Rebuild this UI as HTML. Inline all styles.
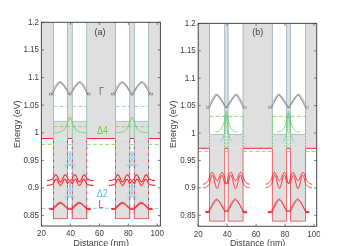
<!DOCTYPE html>
<html><head><meta charset="utf-8"><style>
html,body{margin:0;padding:0;background:#fff;width:343px;height:246px;overflow:hidden}
svg{display:block;will-change:transform}
text{font-family:"Liberation Sans",sans-serif}
.t{font-size:8px;fill:#404040}
.t2{font-size:8.9px;fill:#404040}
.t3{font-size:9.0px;fill:#404040}
.t4{font-size:9px}
</style></head><body>
<svg width="343" height="246" viewBox="0 0 343 246">
<rect width="343" height="246" fill="#fff"/>
<rect x="41.4" y="22.3" width="119.0" height="116.2" fill="#dfdfdf"/>
<rect x="53.5" y="22.3" width="14.0" height="99.10000000000001" fill="#fff"/>
<rect x="53.5" y="138.5" width="14.0" height="80.1" fill="#dfdfdf"/>
<rect x="72.3" y="22.3" width="14.400000000000006" height="99.10000000000001" fill="#fff"/>
<rect x="72.3" y="138.5" width="14.400000000000006" height="80.1" fill="#dfdfdf"/>
<rect x="115.5" y="22.3" width="14.199999999999989" height="99.10000000000001" fill="#fff"/>
<rect x="115.5" y="138.5" width="14.199999999999989" height="80.1" fill="#dfdfdf"/>
<rect x="134.4" y="22.3" width="14.099999999999994" height="99.10000000000001" fill="#fff"/>
<rect x="134.4" y="138.5" width="14.099999999999994" height="80.1" fill="#dfdfdf"/>
<line x1="53.50" y1="22.30" x2="53.50" y2="121.40" stroke="#a3bdc4" stroke-width="1.0"/>
<line x1="67.50" y1="22.30" x2="67.50" y2="121.40" stroke="#a3bdc4" stroke-width="1.0"/>
<line x1="53.50" y1="121.40" x2="67.50" y2="121.40" stroke="#a3bdc4" stroke-width="0.9"/>
<line x1="72.30" y1="22.30" x2="72.30" y2="121.40" stroke="#a3bdc4" stroke-width="1.0"/>
<line x1="86.70" y1="22.30" x2="86.70" y2="121.40" stroke="#a3bdc4" stroke-width="1.0"/>
<line x1="72.30" y1="121.40" x2="86.70" y2="121.40" stroke="#a3bdc4" stroke-width="0.9"/>
<line x1="115.50" y1="22.30" x2="115.50" y2="121.40" stroke="#a3bdc4" stroke-width="1.0"/>
<line x1="129.70" y1="22.30" x2="129.70" y2="121.40" stroke="#a3bdc4" stroke-width="1.0"/>
<line x1="115.50" y1="121.40" x2="129.70" y2="121.40" stroke="#a3bdc4" stroke-width="0.9"/>
<line x1="134.40" y1="22.30" x2="134.40" y2="121.40" stroke="#a3bdc4" stroke-width="1.0"/>
<line x1="148.50" y1="22.30" x2="148.50" y2="121.40" stroke="#a3bdc4" stroke-width="1.0"/>
<line x1="134.40" y1="121.40" x2="148.50" y2="121.40" stroke="#a3bdc4" stroke-width="0.9"/>
<line x1="53.50" y1="106.40" x2="67.50" y2="106.40" stroke="#7ccaee" stroke-width="0.85" stroke-dasharray="3.9,2.3"/>
<line x1="72.30" y1="106.40" x2="86.70" y2="106.40" stroke="#7ccaee" stroke-width="0.85" stroke-dasharray="3.9,2.3"/>
<line x1="53.50" y1="126.60" x2="86.70" y2="126.60" stroke="#80d65c" stroke-width="0.85" stroke-dasharray="3.9,2.3"/>
<path d="M53.50,132.66 L53.91,132.65 L54.33,132.64 L54.74,132.63 L55.16,132.62 L55.58,132.60 L55.99,132.58 L56.41,132.55 L56.82,132.52 L57.23,132.48 L57.65,132.44 L58.06,132.39 L58.48,132.33 L58.90,132.25 L59.31,132.17 L59.73,132.07 L60.14,131.95 L60.55,131.81 L60.97,131.65 L61.38,131.46 L61.80,131.24 L62.22,130.99 L62.63,130.70 L63.05,130.36 L63.46,129.98 L63.88,129.54 L64.29,129.05 L64.70,128.49 L65.12,127.86 L65.53,127.15 L65.95,126.37 L66.36,125.51 L66.78,124.57 L67.20,123.55 L67.61,122.47 L68.03,121.32 L68.44,120.14 L68.86,118.97 L69.27,117.89 L69.69,117.09 L70.10,117.07 L70.52,117.85 L70.93,118.93 L71.34,120.10 L71.76,121.28 L72.18,122.43 L72.59,123.52 L73.00,124.54 L73.42,125.48 L73.84,126.34 L74.25,127.13 L74.66,127.83 L75.08,128.47 L75.50,129.03 L75.91,129.53 L76.33,129.97 L76.74,130.35 L77.16,130.69 L77.57,130.98 L77.98,131.23 L78.40,131.45 L78.81,131.64 L79.23,131.81 L79.65,131.95 L80.06,132.06 L80.47,132.17 L80.89,132.25 L81.31,132.32 L81.72,132.39 L82.14,132.44 L82.55,132.48 L82.97,132.52 L83.38,132.55 L83.80,132.58 L84.21,132.60 L84.62,132.62 L85.04,132.63 L85.45,132.64 L85.87,132.65 L86.28,132.66 L86.70,132.67" fill="none" stroke="#66d03a" stroke-width="0.85"/>
<line x1="53.50" y1="121.40" x2="53.50" y2="138.50" stroke="#5cbdea" stroke-width="0.8" stroke-dasharray="1.6,1.6" stroke-dashoffset="1.6"/>
<line x1="53.50" y1="121.40" x2="53.50" y2="138.50" stroke="#66d03a" stroke-width="0.65" stroke-dasharray="1.6,1.6"/>
<line x1="67.50" y1="121.40" x2="67.50" y2="138.50" stroke="#5cbdea" stroke-width="0.8" stroke-dasharray="1.6,1.6" stroke-dashoffset="1.6"/>
<line x1="67.50" y1="121.40" x2="67.50" y2="138.50" stroke="#66d03a" stroke-width="0.65" stroke-dasharray="1.6,1.6"/>
<line x1="72.30" y1="121.40" x2="72.30" y2="138.50" stroke="#5cbdea" stroke-width="0.8" stroke-dasharray="1.6,1.6" stroke-dashoffset="1.6"/>
<line x1="72.30" y1="121.40" x2="72.30" y2="138.50" stroke="#66d03a" stroke-width="0.65" stroke-dasharray="1.6,1.6"/>
<line x1="86.70" y1="121.40" x2="86.70" y2="138.50" stroke="#5cbdea" stroke-width="0.8" stroke-dasharray="1.6,1.6" stroke-dashoffset="1.6"/>
<line x1="86.70" y1="121.40" x2="86.70" y2="138.50" stroke="#66d03a" stroke-width="0.65" stroke-dasharray="1.6,1.6"/>
<line x1="53.50" y1="138.50" x2="53.50" y2="218.60" stroke="#8ea6c4" stroke-width="0.9"/>
<line x1="53.50" y1="138.50" x2="53.50" y2="218.60" stroke="#fa2630" stroke-width="0.85" stroke-dasharray="2.2,4.2" stroke-dashoffset="-2"/>
<line x1="53.50" y1="206.00" x2="53.50" y2="218.60" stroke="#f2555c" stroke-width="0.8"/>
<line x1="67.50" y1="138.50" x2="67.50" y2="218.60" stroke="#8ea6c4" stroke-width="0.9"/>
<line x1="67.50" y1="138.50" x2="67.50" y2="218.60" stroke="#fa2630" stroke-width="0.85" stroke-dasharray="2.2,4.2" stroke-dashoffset="-2"/>
<line x1="67.50" y1="206.00" x2="67.50" y2="218.60" stroke="#f2555c" stroke-width="0.8"/>
<line x1="72.30" y1="138.50" x2="72.30" y2="218.60" stroke="#8ea6c4" stroke-width="0.9"/>
<line x1="72.30" y1="138.50" x2="72.30" y2="218.60" stroke="#fa2630" stroke-width="0.85" stroke-dasharray="2.2,4.2" stroke-dashoffset="-2"/>
<line x1="72.30" y1="206.00" x2="72.30" y2="218.60" stroke="#f2555c" stroke-width="0.8"/>
<line x1="86.70" y1="138.50" x2="86.70" y2="218.60" stroke="#8ea6c4" stroke-width="0.9"/>
<line x1="86.70" y1="138.50" x2="86.70" y2="218.60" stroke="#fa2630" stroke-width="0.85" stroke-dasharray="2.2,4.2" stroke-dashoffset="-2"/>
<line x1="86.70" y1="206.00" x2="86.70" y2="218.60" stroke="#f2555c" stroke-width="0.8"/>
<line x1="53.50" y1="218.60" x2="67.50" y2="218.60" stroke="#f2555c" stroke-width="0.9"/>
<line x1="72.30" y1="218.60" x2="86.70" y2="218.60" stroke="#f2555c" stroke-width="0.9"/>
<path d="M70.29,151.40 L70.40,151.63 L70.50,151.86 L70.59,152.09 L70.67,152.33 L70.72,152.56 L70.76,152.79 L70.77,153.02 L70.77,153.25 L70.74,153.49 L70.68,153.72 L70.61,153.95 L70.52,154.18 L70.41,154.41 L70.29,154.64 L70.15,154.88 L70.00,155.11 L69.85,155.34 L69.70,155.57 L69.55,155.80 L69.41,156.03 L69.27,156.27 L69.15,156.50 L69.05,156.73 L68.96,156.96 L68.90,157.19 L68.86,157.42 L68.85,157.66 L68.86,157.89 L68.90,158.12 L68.97,158.35 L69.06,158.58 L69.18,158.81 L69.31,159.05 L69.46,159.28 L69.63,159.51 L69.80,159.74 L69.98,159.97 L70.16,160.20 L70.34,160.44 L70.51,160.67 L70.66,160.90 L70.80,161.13 L70.92,161.36 L71.01,161.59 L71.08,161.83 L71.12,162.06 L71.13,162.29 L71.11,162.52 L71.05,162.75 L70.97,162.98 L70.86,163.22 L70.72,163.45 L70.56,163.68 L70.38,163.91 L70.19,164.14 L69.98,164.37 L69.78,164.61 L69.57,164.84 L69.37,165.07 L69.17,165.30" fill="none" stroke="#5cbdea" stroke-width="1.0"/>
<path d="M69.51,151.40 L69.40,151.63 L69.30,151.86 L69.21,152.09 L69.13,152.33 L69.08,152.56 L69.04,152.79 L69.03,153.02 L69.03,153.25 L69.06,153.49 L69.12,153.72 L69.19,153.95 L69.28,154.18 L69.39,154.41 L69.51,154.64 L69.65,154.88 L69.80,155.11 L69.95,155.34 L70.10,155.57 L70.25,155.80 L70.39,156.03 L70.53,156.27 L70.65,156.50 L70.75,156.73 L70.84,156.96 L70.90,157.19 L70.94,157.42 L70.95,157.66 L70.94,157.89 L70.90,158.12 L70.83,158.35 L70.74,158.58 L70.62,158.81 L70.49,159.05 L70.34,159.28 L70.17,159.51 L70.00,159.74 L69.82,159.97 L69.64,160.20 L69.46,160.44 L69.29,160.67 L69.14,160.90 L69.00,161.13 L68.88,161.36 L68.79,161.59 L68.72,161.83 L68.68,162.06 L68.67,162.29 L68.69,162.52 L68.75,162.75 L68.83,162.98 L68.94,163.22 L69.08,163.45 L69.24,163.68 L69.42,163.91 L69.61,164.14 L69.82,164.37 L70.02,164.61 L70.23,164.84 L70.43,165.07 L70.63,165.30" fill="none" stroke="#5cbdea" stroke-width="1.0"/>
<line x1="64.40" y1="165.30" x2="75.40" y2="165.30" stroke="#5cbdea" stroke-width="0.7"/>
<path d="M70.20,183.20 L70.23,183.55 L70.24,183.91 L70.25,184.26 L70.24,184.61 L70.22,184.96 L70.18,185.31 L70.13,185.67 L70.06,186.02 L69.98,186.37 L69.89,186.72 L69.79,187.08 L69.69,187.43 L69.58,187.78 L69.47,188.13 L69.36,188.49 L69.26,188.84 L69.17,189.19 L69.10,189.54 L69.04,189.90 L69.00,190.25 L68.99,190.60 L68.99,190.96 L69.03,191.31 L69.09,191.66 L69.18,192.01 L69.29,192.37 L69.43,192.72 L69.58,193.07 L69.75,193.42 L69.94,193.78 L70.13,194.13 L70.33,194.48 L70.53,194.83 L70.72,195.19 L70.89,195.54 L71.05,195.89 L71.18,196.24 L71.29,196.59 L71.36,196.95 L71.40,197.30" fill="none" stroke="#5cbdea" stroke-width="1.0"/>
<path d="M69.60,183.20 L69.57,183.55 L69.56,183.91 L69.55,184.26 L69.56,184.61 L69.58,184.96 L69.62,185.31 L69.67,185.67 L69.74,186.02 L69.82,186.37 L69.91,186.72 L70.01,187.08 L70.11,187.43 L70.22,187.78 L70.33,188.13 L70.44,188.49 L70.54,188.84 L70.63,189.19 L70.70,189.54 L70.76,189.90 L70.80,190.25 L70.81,190.60 L70.81,190.96 L70.77,191.31 L70.71,191.66 L70.62,192.01 L70.51,192.37 L70.37,192.72 L70.22,193.07 L70.05,193.42 L69.86,193.78 L69.67,194.13 L69.47,194.48 L69.27,194.83 L69.08,195.19 L68.91,195.54 L68.75,195.89 L68.62,196.24 L68.51,196.59 L68.44,196.95 L68.40,197.30" fill="none" stroke="#5cbdea" stroke-width="1.0"/>
<line x1="65.10" y1="197.30" x2="74.70" y2="197.30" stroke="#5cbdea" stroke-width="0.7"/>
<circle cx="51.50" cy="93.80" r="0.75" fill="#ffffff" stroke="#858585" stroke-width="0.4"/>
<circle cx="52.20" cy="92.36" r="0.75" fill="#ffffff" stroke="#858585" stroke-width="0.4"/>
<circle cx="52.92" cy="90.93" r="0.75" fill="#ffffff" stroke="#858585" stroke-width="0.4"/>
<circle cx="53.66" cy="89.52" r="0.75" fill="#ffffff" stroke="#858585" stroke-width="0.4"/>
<circle cx="54.45" cy="88.12" r="0.75" fill="#ffffff" stroke="#858585" stroke-width="0.4"/>
<circle cx="55.27" cy="86.75" r="0.75" fill="#ffffff" stroke="#858585" stroke-width="0.4"/>
<circle cx="56.15" cy="85.41" r="0.75" fill="#ffffff" stroke="#858585" stroke-width="0.4"/>
<circle cx="57.10" cy="84.12" r="0.75" fill="#ffffff" stroke="#858585" stroke-width="0.4"/>
<circle cx="58.16" cy="82.93" r="0.75" fill="#ffffff" stroke="#858585" stroke-width="0.4"/>
<circle cx="59.41" cy="81.95" r="0.75" fill="#ffffff" stroke="#858585" stroke-width="0.4"/>
<circle cx="60.84" cy="82.38" r="0.75" fill="#ffffff" stroke="#858585" stroke-width="0.4"/>
<circle cx="62.03" cy="83.45" r="0.75" fill="#ffffff" stroke="#858585" stroke-width="0.4"/>
<circle cx="63.09" cy="84.65" r="0.75" fill="#ffffff" stroke="#858585" stroke-width="0.4"/>
<circle cx="64.06" cy="85.92" r="0.75" fill="#ffffff" stroke="#858585" stroke-width="0.4"/>
<circle cx="64.98" cy="87.23" r="0.75" fill="#ffffff" stroke="#858585" stroke-width="0.4"/>
<circle cx="65.85" cy="88.57" r="0.75" fill="#ffffff" stroke="#858585" stroke-width="0.4"/>
<circle cx="66.68" cy="89.94" r="0.75" fill="#ffffff" stroke="#858585" stroke-width="0.4"/>
<circle cx="67.48" cy="91.33" r="0.75" fill="#ffffff" stroke="#858585" stroke-width="0.4"/>
<circle cx="68.26" cy="92.73" r="0.75" fill="#ffffff" stroke="#858585" stroke-width="0.4"/>
<circle cx="69.11" cy="94.04" r="0.75" fill="#ffffff" stroke="#858585" stroke-width="0.4"/>
<circle cx="70.53" cy="94.65" r="0.75" fill="#ffffff" stroke="#858585" stroke-width="0.4"/>
<circle cx="71.27" cy="93.23" r="0.75" fill="#ffffff" stroke="#858585" stroke-width="0.4"/>
<circle cx="72.03" cy="91.83" r="0.75" fill="#ffffff" stroke="#858585" stroke-width="0.4"/>
<circle cx="72.83" cy="90.44" r="0.75" fill="#ffffff" stroke="#858585" stroke-width="0.4"/>
<circle cx="73.65" cy="89.06" r="0.75" fill="#ffffff" stroke="#858585" stroke-width="0.4"/>
<circle cx="74.50" cy="87.71" r="0.75" fill="#ffffff" stroke="#858585" stroke-width="0.4"/>
<circle cx="75.40" cy="86.39" r="0.75" fill="#ffffff" stroke="#858585" stroke-width="0.4"/>
<circle cx="76.35" cy="85.10" r="0.75" fill="#ffffff" stroke="#858585" stroke-width="0.4"/>
<circle cx="77.38" cy="83.87" r="0.75" fill="#ffffff" stroke="#858585" stroke-width="0.4"/>
<circle cx="78.51" cy="82.74" r="0.75" fill="#ffffff" stroke="#858585" stroke-width="0.4"/>
<circle cx="79.84" cy="81.88" r="0.75" fill="#ffffff" stroke="#858585" stroke-width="0.4"/>
<circle cx="81.22" cy="82.53" r="0.75" fill="#ffffff" stroke="#858585" stroke-width="0.4"/>
<circle cx="82.34" cy="83.68" r="0.75" fill="#ffffff" stroke="#858585" stroke-width="0.4"/>
<circle cx="83.32" cy="84.94" r="0.75" fill="#ffffff" stroke="#858585" stroke-width="0.4"/>
<circle cx="84.22" cy="86.26" r="0.75" fill="#ffffff" stroke="#858585" stroke-width="0.4"/>
<circle cx="85.06" cy="87.62" r="0.75" fill="#ffffff" stroke="#858585" stroke-width="0.4"/>
<circle cx="85.86" cy="89.01" r="0.75" fill="#ffffff" stroke="#858585" stroke-width="0.4"/>
<circle cx="86.62" cy="90.42" r="0.75" fill="#ffffff" stroke="#858585" stroke-width="0.4"/>
<circle cx="87.35" cy="91.84" r="0.75" fill="#ffffff" stroke="#858585" stroke-width="0.4"/>
<circle cx="88.05" cy="93.28" r="0.75" fill="#ffffff" stroke="#858585" stroke-width="0.4"/>
<path d="M52.30,94.30 L52.69,93.47 L53.08,92.66 L53.47,91.87 L53.86,91.10 L54.26,90.35 L54.65,89.63 L55.04,88.92 L55.43,88.24 L55.82,87.58 L56.21,86.94 L56.60,86.34 L56.99,85.76 L57.38,85.21 L57.78,84.69 L58.17,84.20 L58.56,83.76 L58.95,83.35 L59.34,82.99 L59.73,82.68 L60.12,82.44 L60.51,82.32 L60.90,82.47 L61.30,82.71 L61.69,83.00 L62.08,83.33 L62.47,83.71 L62.86,84.11 L63.25,84.55 L63.64,85.01 L64.03,85.50 L64.42,86.01 L64.82,86.55 L65.21,87.11 L65.60,87.69 L65.99,88.28 L66.38,88.90 L66.77,89.54 L67.16,90.19 L67.55,90.86 L67.94,91.54 L68.34,92.24 L68.73,92.96 L69.12,93.69 L69.51,94.44 L69.90,95.20 L70.29,94.44 L70.68,93.69 L71.07,92.96 L71.46,92.24 L71.86,91.54 L72.25,90.86 L72.64,90.19 L73.03,89.54 L73.42,88.90 L73.81,88.28 L74.20,87.69 L74.59,87.11 L74.98,86.55 L75.38,86.01 L75.77,85.50 L76.16,85.01 L76.55,84.55 L76.94,84.11 L77.33,83.71 L77.72,83.33 L78.11,83.00 L78.50,82.71 L78.90,82.47 L79.29,82.32 L79.68,82.44 L80.07,82.68 L80.46,82.99 L80.85,83.35 L81.24,83.76 L81.63,84.20 L82.02,84.69 L82.42,85.21 L82.81,85.76 L83.20,86.34 L83.59,86.94 L83.98,87.58 L84.37,88.24 L84.76,88.92 L85.15,89.63 L85.54,90.35 L85.94,91.10 L86.33,91.87 L86.72,92.66 L87.11,93.47 L87.50,94.30" fill="none" stroke="#555555" stroke-width="0.6" stroke-linejoin="round"/>
<rect x="49.20" y="93.60" width="3.0" height="1.4" fill="none" stroke="#707070" stroke-width="0.5"/>
<rect x="87.60" y="93.60" width="3.0" height="1.4" fill="none" stroke="#707070" stroke-width="0.5"/>
<line x1="115.50" y1="106.40" x2="129.70" y2="106.40" stroke="#7ccaee" stroke-width="0.85" stroke-dasharray="3.9,2.3"/>
<line x1="134.40" y1="106.40" x2="148.50" y2="106.40" stroke="#7ccaee" stroke-width="0.85" stroke-dasharray="3.9,2.3"/>
<line x1="115.50" y1="126.60" x2="148.50" y2="126.60" stroke="#80d65c" stroke-width="0.85" stroke-dasharray="3.9,2.3"/>
<path d="M115.50,132.66 L115.91,132.66 L116.33,132.65 L116.74,132.64 L117.15,132.62 L117.56,132.61 L117.97,132.59 L118.39,132.56 L118.80,132.53 L119.21,132.50 L119.62,132.46 L120.04,132.41 L120.45,132.36 L120.86,132.29 L121.28,132.21 L121.69,132.12 L122.10,132.01 L122.51,131.88 L122.92,131.73 L123.34,131.55 L123.75,131.35 L124.16,131.12 L124.58,130.85 L124.99,130.54 L125.40,130.18 L125.81,129.77 L126.22,129.31 L126.64,128.79 L127.05,128.20 L127.46,127.54 L127.88,126.81 L128.29,125.99 L128.70,125.10 L129.11,124.13 L129.53,123.09 L129.94,121.98 L130.35,120.83 L130.76,119.65 L131.18,118.51 L131.59,117.51 L132.00,116.96 L132.41,117.32 L132.82,118.25 L133.24,119.37 L133.65,120.54 L134.06,121.71 L134.47,122.83 L134.89,123.89 L135.30,124.88 L135.71,125.79 L136.12,126.62 L136.54,127.37 L136.95,128.05 L137.36,128.65 L137.78,129.19 L138.19,129.67 L138.60,130.09 L139.01,130.45 L139.43,130.78 L139.84,131.06 L140.25,131.30 L140.66,131.51 L141.07,131.69 L141.49,131.84 L141.90,131.98 L142.31,132.09 L142.72,132.19 L143.14,132.27 L143.55,132.34 L143.96,132.40 L144.38,132.45 L144.79,132.49 L145.20,132.53 L145.61,132.56 L146.03,132.58 L146.44,132.60 L146.85,132.62 L147.26,132.63 L147.68,132.64 L148.09,132.65 L148.50,132.66" fill="none" stroke="#66d03a" stroke-width="0.85"/>
<line x1="115.50" y1="121.40" x2="115.50" y2="138.50" stroke="#5cbdea" stroke-width="0.8" stroke-dasharray="1.6,1.6" stroke-dashoffset="1.6"/>
<line x1="115.50" y1="121.40" x2="115.50" y2="138.50" stroke="#66d03a" stroke-width="0.65" stroke-dasharray="1.6,1.6"/>
<line x1="129.70" y1="121.40" x2="129.70" y2="138.50" stroke="#5cbdea" stroke-width="0.8" stroke-dasharray="1.6,1.6" stroke-dashoffset="1.6"/>
<line x1="129.70" y1="121.40" x2="129.70" y2="138.50" stroke="#66d03a" stroke-width="0.65" stroke-dasharray="1.6,1.6"/>
<line x1="134.40" y1="121.40" x2="134.40" y2="138.50" stroke="#5cbdea" stroke-width="0.8" stroke-dasharray="1.6,1.6" stroke-dashoffset="1.6"/>
<line x1="134.40" y1="121.40" x2="134.40" y2="138.50" stroke="#66d03a" stroke-width="0.65" stroke-dasharray="1.6,1.6"/>
<line x1="148.50" y1="121.40" x2="148.50" y2="138.50" stroke="#5cbdea" stroke-width="0.8" stroke-dasharray="1.6,1.6" stroke-dashoffset="1.6"/>
<line x1="148.50" y1="121.40" x2="148.50" y2="138.50" stroke="#66d03a" stroke-width="0.65" stroke-dasharray="1.6,1.6"/>
<line x1="115.50" y1="138.50" x2="115.50" y2="218.60" stroke="#8ea6c4" stroke-width="0.9"/>
<line x1="115.50" y1="138.50" x2="115.50" y2="218.60" stroke="#fa2630" stroke-width="0.85" stroke-dasharray="2.2,4.2" stroke-dashoffset="-2"/>
<line x1="115.50" y1="206.00" x2="115.50" y2="218.60" stroke="#f2555c" stroke-width="0.8"/>
<line x1="129.70" y1="138.50" x2="129.70" y2="218.60" stroke="#8ea6c4" stroke-width="0.9"/>
<line x1="129.70" y1="138.50" x2="129.70" y2="218.60" stroke="#fa2630" stroke-width="0.85" stroke-dasharray="2.2,4.2" stroke-dashoffset="-2"/>
<line x1="129.70" y1="206.00" x2="129.70" y2="218.60" stroke="#f2555c" stroke-width="0.8"/>
<line x1="134.40" y1="138.50" x2="134.40" y2="218.60" stroke="#8ea6c4" stroke-width="0.9"/>
<line x1="134.40" y1="138.50" x2="134.40" y2="218.60" stroke="#fa2630" stroke-width="0.85" stroke-dasharray="2.2,4.2" stroke-dashoffset="-2"/>
<line x1="134.40" y1="206.00" x2="134.40" y2="218.60" stroke="#f2555c" stroke-width="0.8"/>
<line x1="148.50" y1="138.50" x2="148.50" y2="218.60" stroke="#8ea6c4" stroke-width="0.9"/>
<line x1="148.50" y1="138.50" x2="148.50" y2="218.60" stroke="#fa2630" stroke-width="0.85" stroke-dasharray="2.2,4.2" stroke-dashoffset="-2"/>
<line x1="148.50" y1="206.00" x2="148.50" y2="218.60" stroke="#f2555c" stroke-width="0.8"/>
<line x1="115.50" y1="218.60" x2="129.70" y2="218.60" stroke="#f2555c" stroke-width="0.9"/>
<line x1="134.40" y1="218.60" x2="148.50" y2="218.60" stroke="#f2555c" stroke-width="0.9"/>
<path d="M132.44,151.40 L132.55,151.63 L132.65,151.86 L132.74,152.09 L132.82,152.33 L132.87,152.56 L132.91,152.79 L132.92,153.02 L132.92,153.25 L132.89,153.49 L132.83,153.72 L132.76,153.95 L132.67,154.18 L132.56,154.41 L132.44,154.64 L132.30,154.88 L132.15,155.11 L132.00,155.34 L131.85,155.57 L131.70,155.80 L131.56,156.03 L131.42,156.27 L131.30,156.50 L131.20,156.73 L131.11,156.96 L131.05,157.19 L131.01,157.42 L131.00,157.66 L131.01,157.89 L131.05,158.12 L131.12,158.35 L131.21,158.58 L131.33,158.81 L131.46,159.05 L131.61,159.28 L131.78,159.51 L131.95,159.74 L132.13,159.97 L132.31,160.20 L132.49,160.44 L132.66,160.67 L132.81,160.90 L132.95,161.13 L133.07,161.36 L133.16,161.59 L133.23,161.83 L133.27,162.06 L133.28,162.29 L133.26,162.52 L133.20,162.75 L133.12,162.98 L133.01,163.22 L132.87,163.45 L132.71,163.68 L132.53,163.91 L132.34,164.14 L132.13,164.37 L131.93,164.61 L131.72,164.84 L131.52,165.07 L131.32,165.30" fill="none" stroke="#5cbdea" stroke-width="1.0"/>
<path d="M131.66,151.40 L131.55,151.63 L131.45,151.86 L131.36,152.09 L131.28,152.33 L131.23,152.56 L131.19,152.79 L131.18,153.02 L131.18,153.25 L131.21,153.49 L131.27,153.72 L131.34,153.95 L131.43,154.18 L131.54,154.41 L131.66,154.64 L131.80,154.88 L131.95,155.11 L132.10,155.34 L132.25,155.57 L132.40,155.80 L132.54,156.03 L132.68,156.27 L132.80,156.50 L132.90,156.73 L132.99,156.96 L133.05,157.19 L133.09,157.42 L133.10,157.66 L133.09,157.89 L133.05,158.12 L132.98,158.35 L132.89,158.58 L132.77,158.81 L132.64,159.05 L132.49,159.28 L132.32,159.51 L132.15,159.74 L131.97,159.97 L131.79,160.20 L131.61,160.44 L131.44,160.67 L131.29,160.90 L131.15,161.13 L131.03,161.36 L130.94,161.59 L130.87,161.83 L130.83,162.06 L130.82,162.29 L130.84,162.52 L130.90,162.75 L130.98,162.98 L131.09,163.22 L131.23,163.45 L131.39,163.68 L131.57,163.91 L131.76,164.14 L131.97,164.37 L132.17,164.61 L132.38,164.84 L132.58,165.07 L132.78,165.30" fill="none" stroke="#5cbdea" stroke-width="1.0"/>
<line x1="126.55" y1="165.30" x2="137.55" y2="165.30" stroke="#5cbdea" stroke-width="0.7"/>
<path d="M132.35,183.20 L132.38,183.55 L132.39,183.91 L132.40,184.26 L132.39,184.61 L132.37,184.96 L132.33,185.31 L132.28,185.67 L132.21,186.02 L132.13,186.37 L132.04,186.72 L131.94,187.08 L131.84,187.43 L131.73,187.78 L131.62,188.13 L131.51,188.49 L131.41,188.84 L131.32,189.19 L131.25,189.54 L131.19,189.90 L131.15,190.25 L131.14,190.60 L131.14,190.96 L131.18,191.31 L131.24,191.66 L131.33,192.01 L131.44,192.37 L131.58,192.72 L131.73,193.07 L131.90,193.42 L132.09,193.78 L132.28,194.13 L132.48,194.48 L132.68,194.83 L132.87,195.19 L133.04,195.54 L133.20,195.89 L133.33,196.24 L133.44,196.59 L133.51,196.95 L133.55,197.30" fill="none" stroke="#5cbdea" stroke-width="1.0"/>
<path d="M131.75,183.20 L131.72,183.55 L131.71,183.91 L131.70,184.26 L131.71,184.61 L131.73,184.96 L131.77,185.31 L131.82,185.67 L131.89,186.02 L131.97,186.37 L132.06,186.72 L132.16,187.08 L132.26,187.43 L132.37,187.78 L132.48,188.13 L132.59,188.49 L132.69,188.84 L132.78,189.19 L132.85,189.54 L132.91,189.90 L132.95,190.25 L132.96,190.60 L132.96,190.96 L132.92,191.31 L132.86,191.66 L132.77,192.01 L132.66,192.37 L132.52,192.72 L132.37,193.07 L132.20,193.42 L132.01,193.78 L131.82,194.13 L131.62,194.48 L131.42,194.83 L131.23,195.19 L131.06,195.54 L130.90,195.89 L130.77,196.24 L130.66,196.59 L130.59,196.95 L130.55,197.30" fill="none" stroke="#5cbdea" stroke-width="1.0"/>
<line x1="127.25" y1="197.30" x2="136.85" y2="197.30" stroke="#5cbdea" stroke-width="0.7"/>
<circle cx="113.65" cy="93.80" r="0.75" fill="#ffffff" stroke="#858585" stroke-width="0.4"/>
<circle cx="114.35" cy="92.36" r="0.75" fill="#ffffff" stroke="#858585" stroke-width="0.4"/>
<circle cx="115.07" cy="90.93" r="0.75" fill="#ffffff" stroke="#858585" stroke-width="0.4"/>
<circle cx="115.81" cy="89.52" r="0.75" fill="#ffffff" stroke="#858585" stroke-width="0.4"/>
<circle cx="116.60" cy="88.12" r="0.75" fill="#ffffff" stroke="#858585" stroke-width="0.4"/>
<circle cx="117.42" cy="86.75" r="0.75" fill="#ffffff" stroke="#858585" stroke-width="0.4"/>
<circle cx="118.30" cy="85.41" r="0.75" fill="#ffffff" stroke="#858585" stroke-width="0.4"/>
<circle cx="119.25" cy="84.12" r="0.75" fill="#ffffff" stroke="#858585" stroke-width="0.4"/>
<circle cx="120.31" cy="82.93" r="0.75" fill="#ffffff" stroke="#858585" stroke-width="0.4"/>
<circle cx="121.56" cy="81.95" r="0.75" fill="#ffffff" stroke="#858585" stroke-width="0.4"/>
<circle cx="122.99" cy="82.38" r="0.75" fill="#ffffff" stroke="#858585" stroke-width="0.4"/>
<circle cx="124.18" cy="83.45" r="0.75" fill="#ffffff" stroke="#858585" stroke-width="0.4"/>
<circle cx="125.24" cy="84.65" r="0.75" fill="#ffffff" stroke="#858585" stroke-width="0.4"/>
<circle cx="126.21" cy="85.92" r="0.75" fill="#ffffff" stroke="#858585" stroke-width="0.4"/>
<circle cx="127.13" cy="87.23" r="0.75" fill="#ffffff" stroke="#858585" stroke-width="0.4"/>
<circle cx="128.00" cy="88.57" r="0.75" fill="#ffffff" stroke="#858585" stroke-width="0.4"/>
<circle cx="128.83" cy="89.94" r="0.75" fill="#ffffff" stroke="#858585" stroke-width="0.4"/>
<circle cx="129.63" cy="91.33" r="0.75" fill="#ffffff" stroke="#858585" stroke-width="0.4"/>
<circle cx="130.41" cy="92.73" r="0.75" fill="#ffffff" stroke="#858585" stroke-width="0.4"/>
<circle cx="131.26" cy="94.04" r="0.75" fill="#ffffff" stroke="#858585" stroke-width="0.4"/>
<circle cx="132.68" cy="94.65" r="0.75" fill="#ffffff" stroke="#858585" stroke-width="0.4"/>
<circle cx="133.42" cy="93.23" r="0.75" fill="#ffffff" stroke="#858585" stroke-width="0.4"/>
<circle cx="134.18" cy="91.83" r="0.75" fill="#ffffff" stroke="#858585" stroke-width="0.4"/>
<circle cx="134.98" cy="90.44" r="0.75" fill="#ffffff" stroke="#858585" stroke-width="0.4"/>
<circle cx="135.80" cy="89.06" r="0.75" fill="#ffffff" stroke="#858585" stroke-width="0.4"/>
<circle cx="136.65" cy="87.71" r="0.75" fill="#ffffff" stroke="#858585" stroke-width="0.4"/>
<circle cx="137.55" cy="86.39" r="0.75" fill="#ffffff" stroke="#858585" stroke-width="0.4"/>
<circle cx="138.50" cy="85.10" r="0.75" fill="#ffffff" stroke="#858585" stroke-width="0.4"/>
<circle cx="139.53" cy="83.87" r="0.75" fill="#ffffff" stroke="#858585" stroke-width="0.4"/>
<circle cx="140.66" cy="82.74" r="0.75" fill="#ffffff" stroke="#858585" stroke-width="0.4"/>
<circle cx="141.99" cy="81.88" r="0.75" fill="#ffffff" stroke="#858585" stroke-width="0.4"/>
<circle cx="143.37" cy="82.53" r="0.75" fill="#ffffff" stroke="#858585" stroke-width="0.4"/>
<circle cx="144.49" cy="83.68" r="0.75" fill="#ffffff" stroke="#858585" stroke-width="0.4"/>
<circle cx="145.47" cy="84.94" r="0.75" fill="#ffffff" stroke="#858585" stroke-width="0.4"/>
<circle cx="146.37" cy="86.26" r="0.75" fill="#ffffff" stroke="#858585" stroke-width="0.4"/>
<circle cx="147.21" cy="87.62" r="0.75" fill="#ffffff" stroke="#858585" stroke-width="0.4"/>
<circle cx="148.01" cy="89.01" r="0.75" fill="#ffffff" stroke="#858585" stroke-width="0.4"/>
<circle cx="148.77" cy="90.42" r="0.75" fill="#ffffff" stroke="#858585" stroke-width="0.4"/>
<circle cx="149.50" cy="91.84" r="0.75" fill="#ffffff" stroke="#858585" stroke-width="0.4"/>
<circle cx="150.20" cy="93.28" r="0.75" fill="#ffffff" stroke="#858585" stroke-width="0.4"/>
<path d="M114.45,94.30 L114.84,93.47 L115.23,92.66 L115.62,91.87 L116.01,91.10 L116.41,90.35 L116.80,89.63 L117.19,88.92 L117.58,88.24 L117.97,87.58 L118.36,86.94 L118.75,86.34 L119.14,85.76 L119.53,85.21 L119.93,84.69 L120.32,84.20 L120.71,83.76 L121.10,83.35 L121.49,82.99 L121.88,82.68 L122.27,82.44 L122.66,82.32 L123.05,82.47 L123.45,82.71 L123.84,83.00 L124.23,83.33 L124.62,83.71 L125.01,84.11 L125.40,84.55 L125.79,85.01 L126.18,85.50 L126.57,86.01 L126.97,86.55 L127.36,87.11 L127.75,87.69 L128.14,88.28 L128.53,88.90 L128.92,89.54 L129.31,90.19 L129.70,90.86 L130.09,91.54 L130.49,92.24 L130.88,92.96 L131.27,93.69 L131.66,94.44 L132.05,95.20 L132.44,94.44 L132.83,93.69 L133.22,92.96 L133.61,92.24 L134.01,91.54 L134.40,90.86 L134.79,90.19 L135.18,89.54 L135.57,88.90 L135.96,88.28 L136.35,87.69 L136.74,87.11 L137.13,86.55 L137.53,86.01 L137.92,85.50 L138.31,85.01 L138.70,84.55 L139.09,84.11 L139.48,83.71 L139.87,83.33 L140.26,83.00 L140.65,82.71 L141.05,82.47 L141.44,82.32 L141.83,82.44 L142.22,82.68 L142.61,82.99 L143.00,83.35 L143.39,83.76 L143.78,84.20 L144.17,84.69 L144.57,85.21 L144.96,85.76 L145.35,86.34 L145.74,86.94 L146.13,87.58 L146.52,88.24 L146.91,88.92 L147.30,89.63 L147.69,90.35 L148.09,91.10 L148.48,91.87 L148.87,92.66 L149.26,93.47 L149.65,94.30" fill="none" stroke="#555555" stroke-width="0.6" stroke-linejoin="round"/>
<rect x="111.35" y="93.60" width="3.0" height="1.4" fill="none" stroke="#707070" stroke-width="0.5"/>
<rect x="149.75" y="93.60" width="3.0" height="1.4" fill="none" stroke="#707070" stroke-width="0.5"/>
<line x1="41.40" y1="138.50" x2="53.50" y2="138.50" stroke="#fa2630" stroke-width="1.0"/>
<line x1="41.40" y1="144.40" x2="53.50" y2="144.40" stroke="#80d65c" stroke-width="0.85" stroke-dasharray="3.9,2.3"/>
<line x1="67.50" y1="138.50" x2="72.30" y2="138.50" stroke="#fa2630" stroke-width="1.0"/>
<line x1="67.50" y1="144.40" x2="72.30" y2="144.40" stroke="#80d65c" stroke-width="0.85" stroke-dasharray="3.9,2.3"/>
<line x1="86.70" y1="138.50" x2="115.50" y2="138.50" stroke="#fa2630" stroke-width="1.0"/>
<line x1="86.70" y1="144.40" x2="115.50" y2="144.40" stroke="#80d65c" stroke-width="0.85" stroke-dasharray="3.9,2.3"/>
<line x1="129.70" y1="138.50" x2="134.40" y2="138.50" stroke="#fa2630" stroke-width="1.0"/>
<line x1="129.70" y1="144.40" x2="134.40" y2="144.40" stroke="#80d65c" stroke-width="0.85" stroke-dasharray="3.9,2.3"/>
<line x1="148.50" y1="138.50" x2="160.40" y2="138.50" stroke="#fa2630" stroke-width="1.0"/>
<line x1="148.50" y1="144.40" x2="160.40" y2="144.40" stroke="#80d65c" stroke-width="0.85" stroke-dasharray="3.9,2.3"/>
<line x1="41.40" y1="208.40" x2="53.50" y2="208.40" stroke="#7ccaee" stroke-width="0.85" stroke-dasharray="3.9,2.3"/>
<line x1="67.50" y1="208.40" x2="72.30" y2="208.40" stroke="#7ccaee" stroke-width="0.85" stroke-dasharray="3.9,2.3"/>
<line x1="86.70" y1="208.40" x2="115.50" y2="208.40" stroke="#7ccaee" stroke-width="0.85" stroke-dasharray="3.9,2.3"/>
<line x1="129.70" y1="208.40" x2="134.40" y2="208.40" stroke="#7ccaee" stroke-width="0.85" stroke-dasharray="3.9,2.3"/>
<line x1="148.50" y1="208.40" x2="160.40" y2="208.40" stroke="#7ccaee" stroke-width="0.85" stroke-dasharray="3.9,2.3"/>
<path d="M46.90,180.58 L47.08,180.56 L47.26,180.54 L47.44,180.52 L47.61,180.51 L47.79,180.48 L47.97,180.46 L48.15,180.44 L48.33,180.41 L48.51,180.38 L48.68,180.36 L48.86,180.32 L49.04,180.29 L49.22,180.25 L49.40,180.21 L49.58,180.17 L49.76,180.13 L49.93,180.08 L50.11,180.03 L50.29,179.97 L50.47,179.92 L50.65,179.85 L50.83,179.79 L51.00,179.71 L51.18,179.64 L51.36,179.55 L51.54,179.47 L51.72,179.37 L51.90,179.27 L52.08,179.16 L52.25,179.04 L52.43,178.92 L52.61,178.79 L52.79,178.64 L52.97,178.49 L53.15,178.33 L53.32,178.15 L53.50,177.96 L53.68,177.56 L53.86,177.16 L54.04,176.78 L54.22,176.43 L54.40,176.09 L54.57,175.79 L54.75,175.52 L54.93,175.29 L55.11,175.11 L55.29,174.96 L55.47,174.86 L55.64,174.81 L55.82,174.80 L56.00,174.85 L56.18,174.94 L56.36,175.08 L56.54,175.26 L56.72,175.48 L56.89,175.74 L57.07,176.04 L57.25,176.36 L57.43,176.72 L57.61,177.09 L57.79,177.48 L57.96,177.88 L58.14,178.29 L58.32,178.70 L58.50,179.10 L58.68,179.48 L58.86,179.86 L59.04,180.20 L59.21,180.53 L59.39,180.81 L59.57,181.07 L59.75,181.28 L59.93,181.46 L60.11,181.58 L60.28,181.67 L60.46,181.70 L60.64,181.68 L60.82,181.62 L61.00,181.51 L61.18,181.36 L61.36,181.16 L61.53,180.92 L61.71,180.65 L61.89,180.34 L62.07,180.00 L62.25,179.64 L62.43,179.26 L62.60,178.86 L62.78,178.46 L62.96,178.05 L63.14,177.65 L63.32,177.25 L63.50,176.87 L63.68,176.51 L63.85,176.17 L64.03,175.86 L64.21,175.58 L64.39,175.34 L64.57,175.15 L64.75,174.99 L64.92,174.88 L65.10,174.82 L65.28,174.80 L65.46,174.83 L65.64,174.91 L65.82,175.04 L66.00,175.21 L66.17,175.42 L66.35,175.68 L66.53,175.97 L66.71,176.29 L66.89,176.63 L67.07,177.00 L67.24,177.39 L67.42,177.79 L67.60,178.19 L67.78,178.55 L67.96,178.87 L68.14,179.14 L68.32,179.38 L68.49,179.59 L68.67,179.77 L68.85,179.92 L69.03,180.04 L69.21,180.14 L69.39,180.21 L69.56,180.26 L69.74,180.29 L69.92,180.30 L70.10,180.29 L70.28,180.26 L70.46,180.21 L70.64,180.15 L70.81,180.07 L70.99,179.96 L71.17,179.84 L71.35,179.69 L71.53,179.52 L71.71,179.32 L71.88,179.09 L72.06,178.82 L72.24,178.53 L72.42,178.15 L72.60,177.74 L72.78,177.34 L72.96,176.96 L73.13,176.59 L73.31,176.25 L73.49,175.93 L73.67,175.64 L73.85,175.40 L74.03,175.19 L74.20,175.02 L74.38,174.90 L74.56,174.83 L74.74,174.80 L74.92,174.82 L75.10,174.89 L75.28,175.01 L75.45,175.17 L75.63,175.37 L75.81,175.61 L75.99,175.90 L76.17,176.21 L76.35,176.55 L76.52,176.92 L76.70,177.30 L76.88,177.70 L77.06,178.10 L77.24,178.51 L77.42,178.91 L77.60,179.31 L77.77,179.69 L77.95,180.04 L78.13,180.38 L78.31,180.68 L78.49,180.96 L78.67,181.19 L78.84,181.38 L79.02,181.53 L79.20,181.63 L79.38,181.69 L79.56,181.70 L79.74,181.66 L79.92,181.57 L80.09,181.44 L80.27,181.26 L80.45,181.04 L80.63,180.78 L80.81,180.49 L80.99,180.16 L81.16,179.81 L81.34,179.44 L81.52,179.05 L81.70,178.65 L81.88,178.24 L82.06,177.84 L82.24,177.44 L82.41,177.05 L82.59,176.67 L82.77,176.32 L82.95,176.00 L83.13,175.71 L83.31,175.45 L83.48,175.23 L83.66,175.06 L83.84,174.93 L84.02,174.84 L84.20,174.80 L84.38,174.81 L84.56,174.87 L84.73,174.98 L84.91,175.13 L85.09,175.32 L85.27,175.55 L85.45,175.83 L85.63,176.13 L85.80,176.47 L85.98,176.83 L86.16,177.21 L86.34,177.60 L86.52,178.01 L86.70,178.41 L86.88,178.58 L87.05,178.72 L87.23,178.86 L87.41,178.99 L87.59,179.11 L87.77,179.22 L87.95,179.33 L88.12,179.42 L88.30,179.52 L88.48,179.60 L88.66,179.68 L88.84,179.75 L89.02,179.82 L89.20,179.89 L89.37,179.95 L89.55,180.01 L89.73,180.06 L89.91,180.11 L90.09,180.15 L90.27,180.20 L90.44,180.24 L90.62,180.27 L90.80,180.31 L90.98,180.34 L91.16,180.37 L91.34,180.40 L91.52,180.43 L91.69,180.45 L91.87,180.47 L92.05,180.50 L92.23,180.52 L92.41,180.54 L92.59,180.55 L92.76,180.57 L92.94,180.58 L93.12,180.60 L93.30,180.61" fill="none" stroke="#fa2630" stroke-width="1.1" stroke-linejoin="round"/>
<path d="M46.90,185.44 L47.08,185.42 L47.26,185.41 L47.44,185.40 L47.61,185.38 L47.79,185.37 L47.97,185.35 L48.15,185.33 L48.33,185.31 L48.51,185.29 L48.68,185.27 L48.86,185.25 L49.04,185.22 L49.22,185.20 L49.40,185.17 L49.58,185.14 L49.76,185.11 L49.93,185.07 L50.11,185.03 L50.29,184.99 L50.47,184.95 L50.65,184.90 L50.83,184.85 L51.00,184.80 L51.18,184.74 L51.36,184.68 L51.54,184.62 L51.72,184.55 L51.90,184.47 L52.08,184.39 L52.25,184.31 L52.43,184.22 L52.61,184.12 L52.79,184.01 L52.97,183.90 L53.15,183.78 L53.32,183.65 L53.50,183.51 L53.68,183.12 L53.86,182.73 L54.04,182.33 L54.22,181.92 L54.40,181.53 L54.57,181.14 L54.75,180.78 L54.93,180.44 L55.11,180.13 L55.29,179.86 L55.47,179.63 L55.64,179.45 L55.82,179.32 L56.00,179.23 L56.18,179.20 L56.36,179.22 L56.54,179.29 L56.72,179.42 L56.89,179.59 L57.07,179.81 L57.25,180.07 L57.43,180.37 L57.61,180.70 L57.79,181.06 L57.96,181.44 L58.14,181.83 L58.32,182.24 L58.50,182.64 L58.68,183.04 L58.86,183.42 L59.04,183.79 L59.21,184.13 L59.39,184.44 L59.57,184.71 L59.75,184.95 L59.93,185.13 L60.11,185.27 L60.28,185.36 L60.46,185.40 L60.64,185.38 L60.82,185.32 L61.00,185.20 L61.18,185.03 L61.36,184.81 L61.53,184.56 L61.71,184.26 L61.89,183.93 L62.07,183.58 L62.25,183.20 L62.43,182.80 L62.60,182.40 L62.78,182.00 L62.96,181.60 L63.14,181.21 L63.32,180.85 L63.50,180.50 L63.68,180.19 L63.85,179.91 L64.03,179.67 L64.21,179.48 L64.39,179.34 L64.57,179.24 L64.75,179.20 L64.92,179.21 L65.10,179.28 L65.28,179.39 L65.46,179.55 L65.64,179.76 L65.82,180.02 L66.00,180.31 L66.17,180.63 L66.35,180.99 L66.53,181.37 L66.71,181.76 L66.89,182.16 L67.07,182.56 L67.24,182.96 L67.42,183.35 L67.60,183.35 L67.78,183.08 L67.96,182.85 L68.14,182.65 L68.32,182.47 L68.49,182.32 L68.67,182.19 L68.85,182.08 L69.03,181.99 L69.21,181.92 L69.39,181.87 L69.56,181.83 L69.74,181.81 L69.92,181.80 L70.10,181.81 L70.28,181.84 L70.46,181.90 L70.64,181.97 L70.81,182.06 L70.99,182.18 L71.17,182.32 L71.35,182.49 L71.53,182.68 L71.71,182.91 L71.88,183.17 L72.06,183.46 L72.24,183.80 L72.42,183.68 L72.60,183.30 L72.78,182.91 L72.96,182.51 L73.13,182.11 L73.31,181.71 L73.49,181.32 L73.67,180.94 L73.85,180.59 L74.03,180.27 L74.20,179.98 L74.38,179.74 L74.56,179.53 L74.74,179.37 L74.92,179.27 L75.10,179.21 L75.28,179.20 L75.45,179.25 L75.63,179.35 L75.81,179.50 L75.99,179.70 L76.17,179.94 L76.35,180.22 L76.52,180.54 L76.70,180.89 L76.88,181.26 L77.06,181.65 L77.24,182.05 L77.42,182.45 L77.60,182.85 L77.77,183.24 L77.95,183.62 L78.13,183.97 L78.31,184.30 L78.49,184.59 L78.67,184.84 L78.84,185.05 L79.02,185.21 L79.20,185.33 L79.38,185.39 L79.56,185.40 L79.74,185.35 L79.92,185.26 L80.09,185.11 L80.27,184.92 L80.45,184.68 L80.63,184.40 L80.81,184.09 L80.99,183.75 L81.16,183.38 L81.34,182.99 L81.52,182.59 L81.70,182.19 L81.88,181.78 L82.06,181.39 L82.24,181.01 L82.41,180.66 L82.59,180.33 L82.77,180.04 L82.95,179.78 L83.13,179.57 L83.31,179.40 L83.48,179.28 L83.66,179.22 L83.84,179.20 L84.02,179.24 L84.20,179.33 L84.38,179.47 L84.56,179.66 L84.73,179.89 L84.91,180.17 L85.09,180.48 L85.27,180.82 L85.45,181.19 L85.63,181.57 L85.80,181.97 L85.98,182.37 L86.16,182.78 L86.34,183.17 L86.52,183.55 L86.70,183.91 L86.88,184.02 L87.05,184.13 L87.23,184.23 L87.41,184.32 L87.59,184.40 L87.77,184.48 L87.95,184.56 L88.12,184.63 L88.30,184.69 L88.48,184.75 L88.66,184.81 L88.84,184.86 L89.02,184.91 L89.20,184.95 L89.37,185.00 L89.55,185.04 L89.73,185.07 L89.91,185.11 L90.09,185.14 L90.27,185.17 L90.44,185.20 L90.62,185.23 L90.80,185.25 L90.98,185.28 L91.16,185.30 L91.34,185.32 L91.52,185.34 L91.69,185.35 L91.87,185.37 L92.05,185.38 L92.23,185.40 L92.41,185.41 L92.59,185.42 L92.76,185.44 L92.94,185.45 L93.12,185.46 L93.30,185.47" fill="none" stroke="#fa2630" stroke-width="1.1" stroke-linejoin="round"/>
<path d="M49.50,209.20 L49.69,209.20 L49.87,209.20 L50.06,209.20 L50.25,209.20 L50.44,209.20 L50.62,209.20 L50.81,209.20 L51.00,209.20 L51.19,209.20 L51.37,209.20 L51.56,209.20 L51.75,209.20 L51.93,209.20 L52.12,209.20 L52.31,209.20 L52.50,209.20 L52.68,209.20 L52.87,209.20 L53.06,209.20 L53.25,209.20 L53.43,209.20 L53.62,208.58 L53.81,208.38 L53.99,208.19 L54.18,208.00 L54.37,207.81 L54.56,207.62 L54.74,207.43 L54.93,207.24 L55.12,207.05 L55.31,206.87 L55.49,206.68 L55.68,206.50 L55.87,206.31 L56.05,206.13 L56.24,205.95 L56.43,205.77 L56.62,205.59 L56.80,205.41 L56.99,205.24 L57.18,205.07 L57.37,204.90 L57.55,204.73 L57.74,204.57 L57.93,204.41 L58.11,204.26 L58.30,204.11 L58.49,203.97 L58.68,203.83 L58.86,203.70 L59.05,203.59 L59.24,203.48 L59.43,203.38 L59.61,203.29 L59.80,203.22 L59.99,203.17 L60.17,203.13 L60.36,203.10 L60.55,203.10 L60.74,203.11 L60.92,203.15 L61.11,203.19 L61.30,203.26 L61.49,203.34 L61.67,203.43 L61.86,203.53 L62.05,203.65 L62.23,203.77 L62.42,203.90 L62.61,204.04 L62.80,204.19 L62.98,204.34 L63.17,204.50 L63.36,204.66 L63.55,204.82 L63.73,204.99 L63.92,205.16 L64.11,205.33 L64.29,205.51 L64.48,205.68 L64.67,205.86 L64.86,206.04 L65.04,206.22 L65.23,206.41 L65.42,206.59 L65.61,206.78 L65.79,206.96 L65.98,207.15 L66.17,207.34 L66.35,207.53 L66.54,207.72 L66.73,207.91 L66.92,208.10 L67.10,208.29 L67.29,208.48 L67.48,208.68 L67.67,209.10 L67.85,209.10 L68.04,209.10 L68.23,209.10 L68.41,209.10 L68.60,209.10 L68.79,209.10 L68.98,209.10 L69.16,209.10 L69.35,209.10 L69.54,209.10 L69.73,209.10 L69.91,209.10 L70.10,209.10 L70.29,209.10 L70.47,209.10 L70.66,209.10 L70.85,209.10 L71.04,209.10 L71.22,209.10 L71.41,209.10 L71.60,209.10 L71.79,209.10 L71.97,209.10 L72.16,209.10 L72.35,208.65 L72.53,208.47 L72.72,208.28 L72.91,208.09 L73.10,207.91 L73.28,207.72 L73.47,207.54 L73.66,207.35 L73.85,207.17 L74.03,206.99 L74.22,206.81 L74.41,206.62 L74.59,206.45 L74.78,206.27 L74.97,206.09 L75.16,205.91 L75.34,205.74 L75.53,205.57 L75.72,205.39 L75.91,205.23 L76.09,205.06 L76.28,204.90 L76.47,204.73 L76.65,204.58 L76.84,204.42 L77.03,204.27 L77.22,204.13 L77.40,203.99 L77.59,203.86 L77.78,203.73 L77.97,203.61 L78.15,203.50 L78.34,203.41 L78.53,203.32 L78.71,203.24 L78.90,203.18 L79.09,203.14 L79.28,203.11 L79.46,203.10 L79.65,203.11 L79.84,203.13 L80.03,203.17 L80.21,203.22 L80.40,203.29 L80.59,203.37 L80.77,203.46 L80.96,203.57 L81.15,203.68 L81.34,203.81 L81.52,203.94 L81.71,204.07 L81.90,204.22 L82.09,204.36 L82.27,204.52 L82.46,204.67 L82.65,204.83 L82.83,205.00 L83.02,205.16 L83.21,205.33 L83.40,205.50 L83.58,205.67 L83.77,205.85 L83.96,206.02 L84.15,206.20 L84.33,206.38 L84.52,206.55 L84.71,206.74 L84.89,206.92 L85.08,207.10 L85.27,207.28 L85.46,207.47 L85.64,207.65 L85.83,207.83 L86.02,208.02 L86.21,208.21 L86.39,208.39 L86.58,208.58 L86.77,209.20 L86.95,209.20 L87.14,209.20 L87.33,209.20 L87.52,209.20 L87.70,209.20 L87.89,209.20 L88.08,209.20 L88.27,209.20 L88.45,209.20 L88.64,209.20 L88.83,209.20 L89.01,209.20 L89.20,209.20 L89.39,209.20 L89.58,209.20 L89.76,209.20 L89.95,209.20 L90.14,209.20 L90.33,209.20 L90.51,209.20 L90.70,209.20" fill="none" stroke="#fa2630" stroke-width="1.2" stroke-linejoin="round"/>
<path d="M49.00,208.40 L49.19,208.40 L49.37,208.40 L49.56,208.40 L49.75,208.40 L49.94,208.40 L50.12,208.40 L50.31,208.40 L50.50,208.40 L50.69,208.40 L50.87,208.40 L51.06,208.40 L51.25,208.40 L51.43,208.40 L51.62,208.40 L51.81,208.40 L52.00,208.40 L52.18,208.40 L52.37,208.40 L52.56,208.40 L52.75,208.40 L52.93,208.40 L53.12,207.78 L53.31,207.58 L53.49,207.39 L53.68,207.20 L53.87,207.01 L54.06,206.82 L54.24,206.63 L54.43,206.44 L54.62,206.25 L54.81,206.07 L54.99,205.88 L55.18,205.70 L55.37,205.51 L55.55,205.33 L55.74,205.15 L55.93,204.97 L56.12,204.79 L56.30,204.61 L56.49,204.44 L56.68,204.27 L56.87,204.10 L57.05,203.93 L57.24,203.77 L57.43,203.61 L57.61,203.46 L57.80,203.31 L57.99,203.17 L58.18,203.03 L58.36,202.90 L58.55,202.79 L58.74,202.68 L58.93,202.58 L59.11,202.49 L59.30,202.42 L59.49,202.37 L59.67,202.33 L59.86,202.30 L60.05,202.30 L60.24,202.31 L60.42,202.35 L60.61,202.39 L60.80,202.46 L60.99,202.54 L61.17,202.63 L61.36,202.73 L61.55,202.85 L61.73,202.97 L61.92,203.10 L62.11,203.24 L62.30,203.39 L62.48,203.54 L62.67,203.70 L62.86,203.86 L63.05,204.02 L63.23,204.19 L63.42,204.36 L63.61,204.53 L63.79,204.71 L63.98,204.88 L64.17,205.06 L64.36,205.24 L64.54,205.42 L64.73,205.61 L64.92,205.79 L65.11,205.98 L65.29,206.16 L65.48,206.35 L65.67,206.54 L65.85,206.73 L66.04,206.92 L66.23,207.11 L66.42,207.30 L66.60,207.49 L66.79,207.68 L66.98,207.88 L67.17,208.30 L67.35,208.30 L67.54,208.30 L67.73,208.30 L67.91,208.30 L68.10,208.30 L68.29,208.30 L68.48,208.30 L68.66,208.30 L68.85,208.30 L69.04,208.30 L69.23,208.30 L69.41,208.30 L69.60,208.30 L69.79,208.30 L69.97,208.30 L70.16,208.30 L70.35,208.30 L70.54,208.30 L70.72,208.30 L70.91,208.30 L71.10,208.30 L71.29,208.30 L71.47,208.30 L71.66,208.30 L71.85,207.85 L72.03,207.67 L72.22,207.48 L72.41,207.29 L72.60,207.11 L72.78,206.92 L72.97,206.74 L73.16,206.55 L73.35,206.37 L73.53,206.19 L73.72,206.01 L73.91,205.82 L74.09,205.65 L74.28,205.47 L74.47,205.29 L74.66,205.11 L74.84,204.94 L75.03,204.77 L75.22,204.59 L75.41,204.43 L75.59,204.26 L75.78,204.10 L75.97,203.93 L76.15,203.78 L76.34,203.62 L76.53,203.47 L76.72,203.33 L76.90,203.19 L77.09,203.06 L77.28,202.93 L77.47,202.81 L77.65,202.70 L77.84,202.61 L78.03,202.52 L78.21,202.44 L78.40,202.38 L78.59,202.34 L78.78,202.31 L78.96,202.30 L79.15,202.31 L79.34,202.33 L79.53,202.37 L79.71,202.42 L79.90,202.49 L80.09,202.57 L80.27,202.66 L80.46,202.77 L80.65,202.88 L80.84,203.01 L81.02,203.14 L81.21,203.27 L81.40,203.42 L81.59,203.56 L81.77,203.72 L81.96,203.87 L82.15,204.03 L82.33,204.20 L82.52,204.36 L82.71,204.53 L82.90,204.70 L83.08,204.87 L83.27,205.05 L83.46,205.22 L83.65,205.40 L83.83,205.58 L84.02,205.75 L84.21,205.94 L84.39,206.12 L84.58,206.30 L84.77,206.48 L84.96,206.67 L85.14,206.85 L85.33,207.03 L85.52,207.22 L85.71,207.41 L85.89,207.59 L86.08,207.78 L86.27,208.40 L86.45,208.40 L86.64,208.40 L86.83,208.40 L87.02,208.40 L87.20,208.40 L87.39,208.40 L87.58,208.40 L87.77,208.40 L87.95,208.40 L88.14,208.40 L88.33,208.40 L88.51,208.40 L88.70,208.40 L88.89,208.40 L89.08,208.40 L89.26,208.40 L89.45,208.40 L89.64,208.40 L89.83,208.40 L90.01,208.40 L90.20,208.40" fill="none" stroke="#fa2630" stroke-width="0.9" stroke-linejoin="round"/>
<line x1="49.50" y1="209.20" x2="53.50" y2="209.20" stroke="#fa2630" stroke-width="1.3"/>
<line x1="86.70" y1="209.20" x2="90.70" y2="209.20" stroke="#fa2630" stroke-width="1.3"/>
<path d="M108.90,180.59 L109.08,180.58 L109.26,180.56 L109.43,180.55 L109.61,180.53 L109.79,180.51 L109.97,180.49 L110.14,180.47 L110.32,180.44 L110.50,180.42 L110.68,180.39 L110.85,180.36 L111.03,180.33 L111.21,180.30 L111.39,180.26 L111.57,180.23 L111.74,180.19 L111.92,180.14 L112.10,180.10 L112.28,180.05 L112.45,179.99 L112.63,179.94 L112.81,179.87 L112.99,179.81 L113.16,179.74 L113.34,179.66 L113.52,179.58 L113.70,179.50 L113.88,179.40 L114.05,179.31 L114.23,179.20 L114.41,179.09 L114.59,178.97 L114.76,178.84 L114.94,178.70 L115.12,178.55 L115.30,178.39 L115.47,178.22 L115.65,177.85 L115.83,177.45 L116.01,177.06 L116.19,176.69 L116.36,176.34 L116.54,176.01 L116.72,175.72 L116.90,175.46 L117.07,175.24 L117.25,175.07 L117.43,174.93 L117.61,174.84 L117.78,174.80 L117.96,174.81 L118.14,174.86 L118.32,174.96 L118.50,175.11 L118.67,175.30 L118.85,175.53 L119.03,175.80 L119.21,176.10 L119.38,176.43 L119.56,176.78 L119.74,177.16 L119.92,177.55 L120.09,177.95 L120.27,178.36 L120.45,178.76 L120.63,179.16 L120.81,179.54 L120.98,179.91 L121.16,180.25 L121.34,180.57 L121.52,180.85 L121.69,181.10 L121.87,181.31 L122.05,181.47 L122.23,181.60 L122.40,181.67 L122.58,181.70 L122.76,181.68 L122.94,181.61 L123.12,181.50 L123.29,181.34 L123.47,181.14 L123.65,180.90 L123.83,180.63 L124.00,180.32 L124.18,179.98 L124.36,179.62 L124.54,179.24 L124.71,178.84 L124.89,178.44 L125.07,178.03 L125.25,177.63 L125.43,177.24 L125.60,176.86 L125.78,176.50 L125.96,176.16 L126.14,175.85 L126.31,175.58 L126.49,175.34 L126.67,175.14 L126.85,174.99 L127.02,174.88 L127.20,174.82 L127.38,174.80 L127.56,174.83 L127.74,174.91 L127.91,175.04 L128.09,175.21 L128.27,175.42 L128.45,175.67 L128.62,175.95 L128.80,176.27 L128.98,176.62 L129.16,176.98 L129.33,177.37 L129.51,177.77 L129.69,178.17 L129.87,178.53 L130.05,178.84 L130.22,179.11 L130.40,179.35 L130.58,179.56 L130.76,179.73 L130.93,179.89 L131.11,180.01 L131.29,180.11 L131.47,180.19 L131.64,180.25 L131.82,180.28 L132.00,180.30 L132.18,180.29 L132.36,180.27 L132.53,180.22 L132.71,180.15 L132.89,180.06 L133.07,179.94 L133.24,179.80 L133.42,179.63 L133.60,179.43 L133.78,179.19 L133.95,178.93 L134.13,178.62 L134.31,178.27 L134.49,177.88 L134.67,177.48 L134.84,177.09 L135.02,176.72 L135.20,176.37 L135.38,176.04 L135.55,175.74 L135.73,175.48 L135.91,175.26 L136.09,175.08 L136.26,174.94 L136.44,174.85 L136.62,174.80 L136.80,174.81 L136.98,174.86 L137.15,174.95 L137.33,175.10 L137.51,175.28 L137.69,175.51 L137.86,175.77 L138.04,176.07 L138.22,176.40 L138.40,176.75 L138.57,177.13 L138.75,177.52 L138.93,177.92 L139.11,178.32 L139.29,178.73 L139.46,179.13 L139.64,179.51 L139.82,179.88 L140.00,180.22 L140.17,180.54 L140.35,180.83 L140.53,181.08 L140.71,181.29 L140.88,181.46 L141.06,181.59 L141.24,181.67 L141.42,181.70 L141.60,181.68 L141.77,181.62 L141.95,181.51 L142.13,181.36 L142.31,181.16 L142.48,180.92 L142.66,180.65 L142.84,180.34 L143.02,180.01 L143.19,179.65 L143.37,179.27 L143.55,178.87 L143.73,178.47 L143.91,178.07 L144.08,177.66 L144.26,177.27 L144.44,176.89 L144.62,176.53 L144.79,176.19 L144.97,175.88 L145.15,175.60 L145.33,175.36 L145.50,175.16 L145.68,175.00 L145.86,174.89 L146.04,174.82 L146.22,174.80 L146.39,174.83 L146.57,174.90 L146.75,175.02 L146.93,175.19 L147.10,175.40 L147.28,175.65 L147.46,175.93 L147.64,176.24 L147.81,176.59 L147.99,176.95 L148.17,177.34 L148.35,177.73 L148.53,178.11 L148.70,178.28 L148.88,178.45 L149.06,178.60 L149.24,178.75 L149.41,178.89 L149.59,179.01 L149.77,179.13 L149.95,179.24 L150.12,179.34 L150.30,179.44 L150.48,179.53 L150.66,179.61 L150.84,179.69 L151.01,179.76 L151.19,179.83 L151.37,179.90 L151.55,179.96 L151.72,180.01 L151.90,180.06 L152.08,180.11 L152.26,180.16 L152.43,180.20 L152.61,180.24 L152.79,180.28 L152.97,180.31 L153.15,180.34 L153.32,180.37 L153.50,180.40 L153.68,180.43 L153.86,180.45 L154.03,180.48 L154.21,180.50 L154.39,180.52 L154.57,180.54 L154.74,180.55 L154.92,180.57 L155.10,180.59" fill="none" stroke="#fa2630" stroke-width="1.1" stroke-linejoin="round"/>
<path d="M108.90,185.45 L109.08,185.44 L109.26,185.43 L109.43,185.42 L109.61,185.40 L109.79,185.39 L109.97,185.38 L110.14,185.36 L110.32,185.34 L110.50,185.32 L110.68,185.31 L110.85,185.28 L111.03,185.26 L111.21,185.24 L111.39,185.21 L111.57,185.19 L111.74,185.16 L111.92,185.12 L112.10,185.09 L112.28,185.06 L112.45,185.02 L112.63,184.98 L112.81,184.93 L112.99,184.88 L113.16,184.83 L113.34,184.78 L113.52,184.72 L113.70,184.66 L113.88,184.59 L114.05,184.52 L114.23,184.44 L114.41,184.36 L114.59,184.28 L114.76,184.18 L114.94,184.08 L115.12,183.97 L115.30,183.86 L115.47,183.74 L115.65,183.40 L115.83,183.02 L116.01,182.62 L116.19,182.22 L116.36,181.82 L116.54,181.43 L116.72,181.05 L116.90,180.69 L117.07,180.36 L117.25,180.07 L117.43,179.81 L117.61,179.59 L117.78,179.42 L117.96,179.29 L118.14,179.22 L118.32,179.20 L118.50,179.23 L118.67,179.31 L118.85,179.45 L119.03,179.63 L119.21,179.85 L119.38,180.12 L119.56,180.43 L119.74,180.76 L119.92,181.12 L120.09,181.50 L120.27,181.90 L120.45,182.30 L120.63,182.70 L120.81,183.10 L120.98,183.48 L121.16,183.84 L121.34,184.17 L121.52,184.48 L121.69,184.75 L121.87,184.97 L122.05,185.15 L122.23,185.29 L122.40,185.37 L122.58,185.40 L122.76,185.38 L122.94,185.31 L123.12,185.18 L123.29,185.01 L123.47,184.79 L123.65,184.53 L123.83,184.24 L124.00,183.91 L124.18,183.55 L124.36,183.17 L124.54,182.78 L124.71,182.38 L124.89,181.98 L125.07,181.58 L125.25,181.20 L125.43,180.83 L125.60,180.49 L125.78,180.18 L125.96,179.90 L126.14,179.67 L126.31,179.48 L126.49,179.34 L126.67,179.24 L126.85,179.20 L127.02,179.21 L127.20,179.28 L127.38,179.39 L127.56,179.55 L127.74,179.76 L127.91,180.01 L128.09,180.30 L128.27,180.62 L128.45,180.98 L128.62,181.35 L128.80,181.74 L128.98,182.14 L129.16,182.54 L129.33,182.94 L129.51,183.33 L129.69,183.70 L129.87,183.41 L130.05,183.13 L130.22,182.88 L130.40,182.66 L130.58,182.48 L130.76,182.31 L130.93,182.18 L131.11,182.06 L131.29,181.97 L131.47,181.90 L131.64,181.85 L131.82,181.82 L132.00,181.80 L132.18,181.80 L132.36,181.83 L132.53,181.86 L132.71,181.92 L132.89,182.00 L133.07,182.09 L133.24,182.21 L133.42,182.35 L133.60,182.51 L133.78,182.70 L133.95,182.92 L134.13,183.17 L134.31,183.46 L134.49,183.43 L134.67,183.05 L134.84,182.65 L135.02,182.25 L135.20,181.85 L135.38,181.46 L135.55,181.08 L135.73,180.72 L135.91,180.39 L136.09,180.09 L136.26,179.83 L136.44,179.61 L136.62,179.43 L136.80,179.30 L136.98,179.23 L137.15,179.20 L137.33,179.23 L137.51,179.31 L137.69,179.43 L137.86,179.61 L138.04,179.83 L138.22,180.10 L138.40,180.40 L138.57,180.73 L138.75,181.09 L138.93,181.47 L139.11,181.87 L139.29,182.27 L139.46,182.67 L139.64,183.06 L139.82,183.45 L140.00,183.81 L140.17,184.15 L140.35,184.45 L140.53,184.72 L140.71,184.95 L140.88,185.14 L141.06,185.28 L141.24,185.36 L141.42,185.40 L141.60,185.38 L141.77,185.31 L141.95,185.19 L142.13,185.03 L142.31,184.81 L142.48,184.56 L142.66,184.26 L142.84,183.94 L143.02,183.58 L143.19,183.20 L143.37,182.81 L143.55,182.41 L143.73,182.01 L143.91,181.61 L144.08,181.23 L144.26,180.86 L144.44,180.52 L144.62,180.20 L144.79,179.93 L144.97,179.69 L145.15,179.49 L145.33,179.35 L145.50,179.25 L145.68,179.20 L145.86,179.21 L146.04,179.27 L146.22,179.38 L146.39,179.54 L146.57,179.74 L146.75,179.99 L146.93,180.28 L147.10,180.60 L147.28,180.95 L147.46,181.32 L147.64,181.71 L147.81,182.11 L147.99,182.51 L148.17,182.91 L148.35,183.30 L148.53,183.64 L148.70,183.76 L148.88,183.89 L149.06,184.00 L149.24,184.11 L149.41,184.20 L149.59,184.30 L149.77,184.38 L149.95,184.46 L150.12,184.54 L150.30,184.61 L150.48,184.67 L150.66,184.73 L150.84,184.79 L151.01,184.85 L151.19,184.90 L151.37,184.94 L151.55,184.99 L151.72,185.03 L151.90,185.06 L152.08,185.10 L152.26,185.13 L152.43,185.16 L152.61,185.19 L152.79,185.22 L152.97,185.24 L153.15,185.27 L153.32,185.29 L153.50,185.31 L153.68,185.33 L153.86,185.35 L154.03,185.36 L154.21,185.38 L154.39,185.39 L154.57,185.41 L154.74,185.42 L154.92,185.43 L155.10,185.44" fill="none" stroke="#fa2630" stroke-width="1.1" stroke-linejoin="round"/>
<path d="M111.50,209.20 L111.69,209.20 L111.87,209.20 L112.06,209.20 L112.25,209.20 L112.43,209.20 L112.62,209.20 L112.80,209.20 L112.99,209.20 L113.18,209.20 L113.36,209.20 L113.55,209.20 L113.74,209.20 L113.92,209.20 L114.11,209.20 L114.30,209.20 L114.48,209.20 L114.67,209.20 L114.85,209.20 L115.04,209.20 L115.23,209.20 L115.41,209.20 L115.60,208.60 L115.79,208.41 L115.97,208.22 L116.16,208.03 L116.35,207.85 L116.53,207.66 L116.72,207.47 L116.90,207.29 L117.09,207.10 L117.28,206.92 L117.46,206.74 L117.65,206.55 L117.84,206.37 L118.02,206.19 L118.21,206.02 L118.40,205.84 L118.58,205.66 L118.77,205.49 L118.95,205.32 L119.14,205.15 L119.33,204.98 L119.51,204.82 L119.70,204.66 L119.89,204.50 L120.07,204.35 L120.26,204.20 L120.45,204.05 L120.63,203.92 L120.82,203.79 L121.00,203.66 L121.19,203.55 L121.38,203.45 L121.56,203.35 L121.75,203.27 L121.94,203.21 L122.12,203.16 L122.31,203.12 L122.50,203.10 L122.68,203.10 L122.87,203.12 L123.05,203.15 L123.24,203.20 L123.43,203.26 L123.61,203.34 L123.80,203.43 L123.99,203.54 L124.17,203.65 L124.36,203.77 L124.55,203.90 L124.73,204.04 L124.92,204.18 L125.10,204.33 L125.29,204.48 L125.48,204.64 L125.66,204.80 L125.85,204.96 L126.04,205.13 L126.22,205.30 L126.41,205.47 L126.60,205.64 L126.78,205.82 L126.97,205.99 L127.15,206.17 L127.34,206.35 L127.53,206.53 L127.71,206.71 L127.90,206.90 L128.09,207.08 L128.27,207.27 L128.46,207.45 L128.65,207.64 L128.83,207.82 L129.02,208.01 L129.20,208.20 L129.39,208.39 L129.58,208.58 L129.76,209.10 L129.95,209.10 L130.14,209.10 L130.32,209.10 L130.51,209.10 L130.70,209.10 L130.88,209.10 L131.07,209.10 L131.25,209.10 L131.44,209.10 L131.63,209.10 L131.81,209.10 L132.00,209.10 L132.19,209.10 L132.37,209.10 L132.56,209.10 L132.75,209.10 L132.93,209.10 L133.12,209.10 L133.30,209.10 L133.49,209.10 L133.68,209.10 L133.86,209.10 L134.05,209.10 L134.24,209.10 L134.42,208.68 L134.61,208.49 L134.80,208.30 L134.98,208.11 L135.17,207.92 L135.35,207.73 L135.54,207.54 L135.73,207.36 L135.91,207.17 L136.10,206.98 L136.29,206.80 L136.47,206.62 L136.66,206.43 L136.85,206.25 L137.03,206.07 L137.22,205.89 L137.40,205.72 L137.59,205.54 L137.78,205.37 L137.96,205.20 L138.15,205.03 L138.34,204.86 L138.52,204.70 L138.71,204.54 L138.90,204.38 L139.08,204.23 L139.27,204.09 L139.45,203.95 L139.64,203.81 L139.83,203.69 L140.01,203.57 L140.20,203.46 L140.39,203.37 L140.57,203.29 L140.76,203.22 L140.95,203.16 L141.13,203.13 L141.32,203.10 L141.50,203.10 L141.69,203.11 L141.88,203.15 L142.06,203.19 L142.25,203.26 L142.44,203.33 L142.62,203.42 L142.81,203.53 L143.00,203.64 L143.18,203.76 L143.37,203.89 L143.55,204.03 L143.74,204.17 L143.93,204.32 L144.11,204.47 L144.30,204.63 L144.49,204.79 L144.67,204.96 L144.86,205.13 L145.05,205.30 L145.23,205.47 L145.42,205.64 L145.60,205.82 L145.79,206.00 L145.98,206.18 L146.16,206.36 L146.35,206.54 L146.54,206.72 L146.72,206.91 L146.91,207.09 L147.10,207.28 L147.28,207.46 L147.47,207.65 L147.65,207.84 L147.84,208.03 L148.03,208.22 L148.21,208.41 L148.40,208.60 L148.59,209.20 L148.77,209.20 L148.96,209.20 L149.15,209.20 L149.33,209.20 L149.52,209.20 L149.70,209.20 L149.89,209.20 L150.08,209.20 L150.26,209.20 L150.45,209.20 L150.64,209.20 L150.82,209.20 L151.01,209.20 L151.20,209.20 L151.38,209.20 L151.57,209.20 L151.75,209.20 L151.94,209.20 L152.13,209.20 L152.31,209.20 L152.50,209.20" fill="none" stroke="#fa2630" stroke-width="1.2" stroke-linejoin="round"/>
<path d="M111.00,208.40 L111.19,208.40 L111.37,208.40 L111.56,208.40 L111.75,208.40 L111.93,208.40 L112.12,208.40 L112.30,208.40 L112.49,208.40 L112.68,208.40 L112.86,208.40 L113.05,208.40 L113.24,208.40 L113.42,208.40 L113.61,208.40 L113.80,208.40 L113.98,208.40 L114.17,208.40 L114.35,208.40 L114.54,208.40 L114.73,208.40 L114.91,208.40 L115.10,207.80 L115.29,207.61 L115.47,207.42 L115.66,207.23 L115.85,207.05 L116.03,206.86 L116.22,206.67 L116.40,206.49 L116.59,206.30 L116.78,206.12 L116.96,205.94 L117.15,205.75 L117.34,205.57 L117.52,205.39 L117.71,205.22 L117.90,205.04 L118.08,204.86 L118.27,204.69 L118.45,204.52 L118.64,204.35 L118.83,204.18 L119.01,204.02 L119.20,203.86 L119.39,203.70 L119.57,203.55 L119.76,203.40 L119.95,203.25 L120.13,203.12 L120.32,202.99 L120.50,202.86 L120.69,202.75 L120.88,202.65 L121.06,202.55 L121.25,202.47 L121.44,202.41 L121.62,202.36 L121.81,202.32 L122.00,202.30 L122.18,202.30 L122.37,202.32 L122.55,202.35 L122.74,202.40 L122.93,202.46 L123.11,202.54 L123.30,202.63 L123.49,202.74 L123.67,202.85 L123.86,202.97 L124.05,203.10 L124.23,203.24 L124.42,203.38 L124.60,203.53 L124.79,203.68 L124.98,203.84 L125.16,204.00 L125.35,204.16 L125.54,204.33 L125.72,204.50 L125.91,204.67 L126.10,204.84 L126.28,205.02 L126.47,205.19 L126.65,205.37 L126.84,205.55 L127.03,205.73 L127.21,205.91 L127.40,206.10 L127.59,206.28 L127.77,206.47 L127.96,206.65 L128.15,206.84 L128.33,207.02 L128.52,207.21 L128.70,207.40 L128.89,207.59 L129.08,207.78 L129.26,208.30 L129.45,208.30 L129.64,208.30 L129.82,208.30 L130.01,208.30 L130.20,208.30 L130.38,208.30 L130.57,208.30 L130.75,208.30 L130.94,208.30 L131.13,208.30 L131.31,208.30 L131.50,208.30 L131.69,208.30 L131.87,208.30 L132.06,208.30 L132.25,208.30 L132.43,208.30 L132.62,208.30 L132.80,208.30 L132.99,208.30 L133.18,208.30 L133.36,208.30 L133.55,208.30 L133.74,208.30 L133.92,207.88 L134.11,207.69 L134.30,207.50 L134.48,207.31 L134.67,207.12 L134.85,206.93 L135.04,206.74 L135.23,206.56 L135.41,206.37 L135.60,206.18 L135.79,206.00 L135.97,205.82 L136.16,205.63 L136.35,205.45 L136.53,205.27 L136.72,205.09 L136.90,204.92 L137.09,204.74 L137.28,204.57 L137.46,204.40 L137.65,204.23 L137.84,204.06 L138.02,203.90 L138.21,203.74 L138.40,203.58 L138.58,203.43 L138.77,203.29 L138.95,203.15 L139.14,203.01 L139.33,202.89 L139.51,202.77 L139.70,202.66 L139.89,202.57 L140.07,202.49 L140.26,202.42 L140.45,202.36 L140.63,202.33 L140.82,202.30 L141.00,202.30 L141.19,202.31 L141.38,202.35 L141.56,202.39 L141.75,202.46 L141.94,202.53 L142.12,202.62 L142.31,202.73 L142.50,202.84 L142.68,202.96 L142.87,203.09 L143.05,203.23 L143.24,203.37 L143.43,203.52 L143.61,203.67 L143.80,203.83 L143.99,203.99 L144.17,204.16 L144.36,204.33 L144.55,204.50 L144.73,204.67 L144.92,204.84 L145.10,205.02 L145.29,205.20 L145.48,205.38 L145.66,205.56 L145.85,205.74 L146.04,205.92 L146.22,206.11 L146.41,206.29 L146.60,206.48 L146.78,206.66 L146.97,206.85 L147.15,207.04 L147.34,207.23 L147.53,207.42 L147.71,207.61 L147.90,207.80 L148.09,208.40 L148.27,208.40 L148.46,208.40 L148.65,208.40 L148.83,208.40 L149.02,208.40 L149.20,208.40 L149.39,208.40 L149.58,208.40 L149.76,208.40 L149.95,208.40 L150.14,208.40 L150.32,208.40 L150.51,208.40 L150.70,208.40 L150.88,208.40 L151.07,208.40 L151.25,208.40 L151.44,208.40 L151.63,208.40 L151.81,208.40 L152.00,208.40" fill="none" stroke="#fa2630" stroke-width="0.9" stroke-linejoin="round"/>
<line x1="111.50" y1="209.20" x2="115.50" y2="209.20" stroke="#fa2630" stroke-width="1.3"/>
<line x1="148.50" y1="209.20" x2="152.50" y2="209.20" stroke="#fa2630" stroke-width="1.3"/>
<text transform="translate(99.9,34.6) scale(1,1.0)" text-anchor="middle" class="t3">(a)</text>
<text transform="translate(101.6,95.0) scale(1,1.14)" text-anchor="middle" class="t4" style="fill:#666">Γ</text>
<text transform="translate(102.4,133.7) scale(1,1.14)" text-anchor="middle" class="t4" style="fill:#66d03a">Δ4</text>
<text transform="translate(102.3,197.2) scale(1,1.14)" text-anchor="middle" class="t4" style="fill:#5cbdea">Δ2</text>
<text transform="translate(100.9,207.9) scale(1,1.14)" text-anchor="middle" class="t4" style="fill:#fa2630">L</text>
<rect x="41.4" y="22.3" width="119.0" height="203.7" fill="none" stroke="#484848" stroke-width="1.0"/>
<line x1="41.50" y1="226.00" x2="41.50" y2="223.40" stroke="#484848" stroke-width="0.7"/>
<line x1="41.50" y1="22.30" x2="41.50" y2="24.90" stroke="#484848" stroke-width="0.7"/>
<text transform="translate(41.50,236.4) scale(1,1.12)" text-anchor="middle" class="t">20</text>
<line x1="70.44" y1="226.00" x2="70.44" y2="223.40" stroke="#484848" stroke-width="0.7"/>
<line x1="70.44" y1="22.30" x2="70.44" y2="24.90" stroke="#484848" stroke-width="0.7"/>
<text transform="translate(70.44,236.4) scale(1,1.12)" text-anchor="middle" class="t">40</text>
<line x1="99.38" y1="226.00" x2="99.38" y2="223.40" stroke="#484848" stroke-width="0.7"/>
<line x1="99.38" y1="22.30" x2="99.38" y2="24.90" stroke="#484848" stroke-width="0.7"/>
<text transform="translate(99.38,236.4) scale(1,1.12)" text-anchor="middle" class="t">60</text>
<line x1="128.32" y1="226.00" x2="128.32" y2="223.40" stroke="#484848" stroke-width="0.7"/>
<line x1="128.32" y1="22.30" x2="128.32" y2="24.90" stroke="#484848" stroke-width="0.7"/>
<text transform="translate(128.32,236.4) scale(1,1.12)" text-anchor="middle" class="t">80</text>
<line x1="157.26" y1="226.00" x2="157.26" y2="223.40" stroke="#484848" stroke-width="0.7"/>
<line x1="157.26" y1="22.30" x2="157.26" y2="24.90" stroke="#484848" stroke-width="0.7"/>
<text transform="translate(157.26,236.4) scale(1,1.12)" text-anchor="middle" class="t">100</text>
<line x1="41.40" y1="22.30" x2="44.00" y2="22.30" stroke="#484848" stroke-width="0.7"/>
<line x1="160.40" y1="22.30" x2="157.80" y2="22.30" stroke="#484848" stroke-width="0.7"/>
<text transform="translate(39.0,24.80) scale(1,1.12)" text-anchor="end" class="t">1.2</text>
<line x1="41.40" y1="49.92" x2="44.00" y2="49.92" stroke="#484848" stroke-width="0.7"/>
<line x1="160.40" y1="49.92" x2="157.80" y2="49.92" stroke="#484848" stroke-width="0.7"/>
<text transform="translate(39.0,52.42) scale(1,1.12)" text-anchor="end" class="t">1.15</text>
<line x1="41.40" y1="77.53" x2="44.00" y2="77.53" stroke="#484848" stroke-width="0.7"/>
<line x1="160.40" y1="77.53" x2="157.80" y2="77.53" stroke="#484848" stroke-width="0.7"/>
<text transform="translate(39.0,80.03) scale(1,1.12)" text-anchor="end" class="t">1.1</text>
<line x1="41.40" y1="105.14" x2="44.00" y2="105.14" stroke="#484848" stroke-width="0.7"/>
<line x1="160.40" y1="105.14" x2="157.80" y2="105.14" stroke="#484848" stroke-width="0.7"/>
<text transform="translate(39.0,107.64) scale(1,1.12)" text-anchor="end" class="t">1.05</text>
<line x1="41.40" y1="132.76" x2="44.00" y2="132.76" stroke="#484848" stroke-width="0.7"/>
<line x1="160.40" y1="132.76" x2="157.80" y2="132.76" stroke="#484848" stroke-width="0.7"/>
<text transform="translate(39.0,135.26) scale(1,1.12)" text-anchor="end" class="t">1</text>
<line x1="41.40" y1="160.38" x2="44.00" y2="160.38" stroke="#484848" stroke-width="0.7"/>
<line x1="160.40" y1="160.38" x2="157.80" y2="160.38" stroke="#484848" stroke-width="0.7"/>
<text transform="translate(39.0,162.88) scale(1,1.12)" text-anchor="end" class="t">0.95</text>
<line x1="41.40" y1="187.99" x2="44.00" y2="187.99" stroke="#484848" stroke-width="0.7"/>
<line x1="160.40" y1="187.99" x2="157.80" y2="187.99" stroke="#484848" stroke-width="0.7"/>
<text transform="translate(39.0,190.49) scale(1,1.12)" text-anchor="end" class="t">0.9</text>
<line x1="41.40" y1="215.60" x2="44.00" y2="215.60" stroke="#484848" stroke-width="0.7"/>
<line x1="160.40" y1="215.60" x2="157.80" y2="215.60" stroke="#484848" stroke-width="0.7"/>
<text transform="translate(39.0,218.10) scale(1,1.12)" text-anchor="end" class="t">0.85</text>
<text transform="translate(101.2,246.0) scale(1,1.1)" text-anchor="middle" class="t2">Distance (nm)</text>
<text transform="translate(19.5,124.2) rotate(-90) scale(1,1.1)" text-anchor="middle" class="t2">Energy (eV)</text>
<rect x="198.2" y="23.4" width="118.5" height="124.9" fill="#dfdfdf"/>
<rect x="209.5" y="23.4" width="15.199999999999989" height="111.1" fill="#fff"/>
<rect x="209.5" y="148.3" width="15.199999999999989" height="72.89999999999998" fill="#dfdfdf"/>
<rect x="228.1" y="23.4" width="15.0" height="111.1" fill="#fff"/>
<rect x="228.1" y="148.3" width="15.0" height="72.89999999999998" fill="#dfdfdf"/>
<rect x="272.4" y="23.4" width="14.200000000000045" height="111.1" fill="#fff"/>
<rect x="272.4" y="148.3" width="14.200000000000045" height="72.89999999999998" fill="#dfdfdf"/>
<rect x="290.5" y="23.4" width="15.0" height="111.1" fill="#fff"/>
<rect x="290.5" y="148.3" width="15.0" height="72.89999999999998" fill="#dfdfdf"/>
<line x1="209.50" y1="23.40" x2="209.50" y2="134.50" stroke="#a3bdc4" stroke-width="1.0"/>
<line x1="224.70" y1="23.40" x2="224.70" y2="134.50" stroke="#a3bdc4" stroke-width="1.0"/>
<line x1="209.50" y1="134.50" x2="224.70" y2="134.50" stroke="#a3bdc4" stroke-width="0.9"/>
<line x1="228.10" y1="23.40" x2="228.10" y2="134.50" stroke="#a3bdc4" stroke-width="1.0"/>
<line x1="243.10" y1="23.40" x2="243.10" y2="134.50" stroke="#a3bdc4" stroke-width="1.0"/>
<line x1="228.10" y1="134.50" x2="243.10" y2="134.50" stroke="#a3bdc4" stroke-width="0.9"/>
<line x1="272.40" y1="23.40" x2="272.40" y2="134.50" stroke="#a3bdc4" stroke-width="1.0"/>
<line x1="286.60" y1="23.40" x2="286.60" y2="134.50" stroke="#a3bdc4" stroke-width="1.0"/>
<line x1="272.40" y1="134.50" x2="286.60" y2="134.50" stroke="#a3bdc4" stroke-width="0.9"/>
<line x1="290.50" y1="23.40" x2="290.50" y2="134.50" stroke="#a3bdc4" stroke-width="1.0"/>
<line x1="305.50" y1="23.40" x2="305.50" y2="134.50" stroke="#a3bdc4" stroke-width="1.0"/>
<line x1="290.50" y1="134.50" x2="305.50" y2="134.50" stroke="#a3bdc4" stroke-width="0.9"/>
<line x1="209.50" y1="116.40" x2="243.10" y2="116.40" stroke="#80d65c" stroke-width="0.85" stroke-dasharray="3.9,2.3"/>
<path d="M215.40,132.18 L215.67,132.14 L215.95,132.09 L216.22,132.03 L216.50,131.97 L216.77,131.91 L217.05,131.83 L217.32,131.75 L217.60,131.66 L217.87,131.56 L218.15,131.45 L218.42,131.32 L218.70,131.18 L218.97,131.03 L219.25,130.87 L219.52,130.68 L219.80,130.47 L220.07,130.25 L220.35,130.00 L220.62,129.72 L220.90,129.41 L221.17,129.07 L221.45,128.69 L221.72,128.27 L222.00,127.81 L222.27,127.30 L222.55,126.73 L222.82,126.11 L223.10,125.41 L223.37,124.65 L223.65,123.81 L223.92,122.87 L224.20,121.84 L224.47,120.71 L224.75,119.47 L225.02,118.11 L225.30,116.63 L225.57,115.05 L225.85,113.43 L226.12,111.97 L226.40,111.29 L226.67,111.97 L226.95,113.43 L227.22,115.05 L227.50,116.63 L227.77,118.11 L228.05,119.47 L228.32,120.71 L228.60,121.84 L228.87,122.87 L229.15,123.81 L229.42,124.65 L229.70,125.41 L229.97,126.11 L230.25,126.73 L230.52,127.30 L230.80,127.81 L231.07,128.27 L231.35,128.69 L231.62,129.07 L231.90,129.41 L232.17,129.72 L232.45,130.00 L232.72,130.25 L233.00,130.47 L233.27,130.68 L233.55,130.87 L233.82,131.03 L234.10,131.18 L234.37,131.32 L234.65,131.45 L234.92,131.56 L235.20,131.66 L235.47,131.75 L235.75,131.83 L236.02,131.91 L236.30,131.97 L236.57,132.03 L236.85,132.09 L237.12,132.14 L237.40,132.18" fill="none" stroke="#66d03a" stroke-width="0.8"/>
<path d="M220.10,141.94 L220.26,141.85 L220.41,141.76 L220.57,141.66 L220.73,141.55 L220.89,141.43 L221.04,141.30 L221.20,141.15 L221.36,141.00 L221.52,140.82 L221.67,140.63 L221.83,140.42 L221.99,140.19 L222.15,139.94 L222.30,139.66 L222.46,139.36 L222.62,139.02 L222.78,138.66 L222.93,138.26 L223.09,137.82 L223.25,137.34 L223.41,136.82 L223.56,136.24 L223.72,135.61 L223.88,134.92 L224.04,134.17 L224.19,133.34 L224.35,132.44 L224.51,131.45 L224.67,130.38 L224.82,129.20 L224.98,127.93 L225.14,126.54 L225.30,125.05 L225.45,123.44 L225.61,121.73 L225.77,119.95 L225.93,118.16 L226.08,116.48 L226.24,115.20 L226.40,114.69 L226.56,115.20 L226.71,116.48 L226.87,118.16 L227.03,119.95 L227.19,121.73 L227.34,123.44 L227.50,125.05 L227.66,126.54 L227.82,127.93 L227.97,129.20 L228.13,130.38 L228.29,131.45 L228.45,132.44 L228.60,133.34 L228.76,134.17 L228.92,134.92 L229.08,135.61 L229.23,136.24 L229.39,136.82 L229.55,137.34 L229.71,137.82 L229.86,138.26 L230.02,138.66 L230.18,139.02 L230.34,139.36 L230.49,139.66 L230.65,139.94 L230.81,140.19 L230.97,140.42 L231.12,140.63 L231.28,140.82 L231.44,141.00 L231.60,141.15 L231.75,141.30 L231.91,141.43 L232.07,141.55 L232.23,141.66 L232.38,141.76 L232.54,141.85 L232.70,141.94" fill="none" stroke="#5cbdea" stroke-width="0.7"/>
<line x1="209.50" y1="134.50" x2="209.50" y2="148.30" stroke="#5cbdea" stroke-width="0.8" stroke-dasharray="1.6,1.6" stroke-dashoffset="1.6"/>
<line x1="209.50" y1="116.40" x2="209.50" y2="148.30" stroke="#66d03a" stroke-width="0.8" stroke-dasharray="1.6,1.6"/>
<line x1="209.50" y1="148.30" x2="209.50" y2="221.20" stroke="#f2555c" stroke-width="0.9"/>
<line x1="224.70" y1="134.50" x2="224.70" y2="148.30" stroke="#5cbdea" stroke-width="0.8" stroke-dasharray="1.6,1.6" stroke-dashoffset="1.6"/>
<line x1="224.70" y1="116.40" x2="224.70" y2="148.30" stroke="#66d03a" stroke-width="0.8" stroke-dasharray="1.6,1.6"/>
<line x1="224.70" y1="148.30" x2="224.70" y2="221.20" stroke="#f2555c" stroke-width="0.9"/>
<line x1="228.10" y1="134.50" x2="228.10" y2="148.30" stroke="#5cbdea" stroke-width="0.8" stroke-dasharray="1.6,1.6" stroke-dashoffset="1.6"/>
<line x1="228.10" y1="116.40" x2="228.10" y2="148.30" stroke="#66d03a" stroke-width="0.8" stroke-dasharray="1.6,1.6"/>
<line x1="228.10" y1="148.30" x2="228.10" y2="221.20" stroke="#f2555c" stroke-width="0.9"/>
<line x1="243.10" y1="134.50" x2="243.10" y2="148.30" stroke="#5cbdea" stroke-width="0.8" stroke-dasharray="1.6,1.6" stroke-dashoffset="1.6"/>
<line x1="243.10" y1="116.40" x2="243.10" y2="148.30" stroke="#66d03a" stroke-width="0.8" stroke-dasharray="1.6,1.6"/>
<line x1="243.10" y1="148.30" x2="243.10" y2="221.20" stroke="#f2555c" stroke-width="0.9"/>
<line x1="209.50" y1="221.20" x2="224.70" y2="221.20" stroke="#f2555c" stroke-width="0.9"/>
<line x1="228.10" y1="221.20" x2="243.10" y2="221.20" stroke="#f2555c" stroke-width="0.9"/>
<circle cx="208.80" cy="107.00" r="0.75" fill="#ffffff" stroke="#858585" stroke-width="0.4"/>
<circle cx="209.48" cy="105.55" r="0.75" fill="#ffffff" stroke="#858585" stroke-width="0.4"/>
<circle cx="210.18" cy="104.11" r="0.75" fill="#ffffff" stroke="#858585" stroke-width="0.4"/>
<circle cx="210.89" cy="102.68" r="0.75" fill="#ffffff" stroke="#858585" stroke-width="0.4"/>
<circle cx="211.62" cy="101.26" r="0.75" fill="#ffffff" stroke="#858585" stroke-width="0.4"/>
<circle cx="212.38" cy="99.85" r="0.75" fill="#ffffff" stroke="#858585" stroke-width="0.4"/>
<circle cx="213.17" cy="98.45" r="0.75" fill="#ffffff" stroke="#858585" stroke-width="0.4"/>
<circle cx="213.99" cy="97.08" r="0.75" fill="#ffffff" stroke="#858585" stroke-width="0.4"/>
<circle cx="214.88" cy="95.75" r="0.75" fill="#ffffff" stroke="#858585" stroke-width="0.4"/>
<circle cx="215.88" cy="94.51" r="0.75" fill="#ffffff" stroke="#858585" stroke-width="0.4"/>
<circle cx="217.15" cy="94.84" r="0.75" fill="#ffffff" stroke="#858585" stroke-width="0.4"/>
<circle cx="218.23" cy="96.02" r="0.75" fill="#ffffff" stroke="#858585" stroke-width="0.4"/>
<circle cx="219.22" cy="97.27" r="0.75" fill="#ffffff" stroke="#858585" stroke-width="0.4"/>
<circle cx="220.17" cy="98.56" r="0.75" fill="#ffffff" stroke="#858585" stroke-width="0.4"/>
<circle cx="221.07" cy="99.88" r="0.75" fill="#ffffff" stroke="#858585" stroke-width="0.4"/>
<circle cx="221.95" cy="101.21" r="0.75" fill="#ffffff" stroke="#858585" stroke-width="0.4"/>
<circle cx="222.81" cy="102.56" r="0.75" fill="#ffffff" stroke="#858585" stroke-width="0.4"/>
<circle cx="223.65" cy="103.93" r="0.75" fill="#ffffff" stroke="#858585" stroke-width="0.4"/>
<circle cx="224.47" cy="105.30" r="0.75" fill="#ffffff" stroke="#858585" stroke-width="0.4"/>
<circle cx="225.28" cy="106.68" r="0.75" fill="#ffffff" stroke="#858585" stroke-width="0.4"/>
<circle cx="226.63" cy="107.44" r="0.75" fill="#ffffff" stroke="#858585" stroke-width="0.4"/>
<circle cx="227.59" cy="106.56" r="0.75" fill="#ffffff" stroke="#858585" stroke-width="0.4"/>
<circle cx="228.40" cy="105.18" r="0.75" fill="#ffffff" stroke="#858585" stroke-width="0.4"/>
<circle cx="229.22" cy="103.81" r="0.75" fill="#ffffff" stroke="#858585" stroke-width="0.4"/>
<circle cx="230.06" cy="102.45" r="0.75" fill="#ffffff" stroke="#858585" stroke-width="0.4"/>
<circle cx="230.92" cy="101.10" r="0.75" fill="#ffffff" stroke="#858585" stroke-width="0.4"/>
<circle cx="231.80" cy="99.76" r="0.75" fill="#ffffff" stroke="#858585" stroke-width="0.4"/>
<circle cx="232.71" cy="98.45" r="0.75" fill="#ffffff" stroke="#858585" stroke-width="0.4"/>
<circle cx="233.66" cy="97.16" r="0.75" fill="#ffffff" stroke="#858585" stroke-width="0.4"/>
<circle cx="234.66" cy="95.91" r="0.75" fill="#ffffff" stroke="#858585" stroke-width="0.4"/>
<circle cx="235.75" cy="94.74" r="0.75" fill="#ffffff" stroke="#858585" stroke-width="0.4"/>
<circle cx="237.01" cy="94.61" r="0.75" fill="#ffffff" stroke="#858585" stroke-width="0.4"/>
<circle cx="238.00" cy="95.87" r="0.75" fill="#ffffff" stroke="#858585" stroke-width="0.4"/>
<circle cx="238.88" cy="97.20" r="0.75" fill="#ffffff" stroke="#858585" stroke-width="0.4"/>
<circle cx="239.70" cy="98.58" r="0.75" fill="#ffffff" stroke="#858585" stroke-width="0.4"/>
<circle cx="240.49" cy="99.97" r="0.75" fill="#ffffff" stroke="#858585" stroke-width="0.4"/>
<circle cx="241.24" cy="101.38" r="0.75" fill="#ffffff" stroke="#858585" stroke-width="0.4"/>
<circle cx="241.97" cy="102.80" r="0.75" fill="#ffffff" stroke="#858585" stroke-width="0.4"/>
<circle cx="242.68" cy="104.24" r="0.75" fill="#ffffff" stroke="#858585" stroke-width="0.4"/>
<circle cx="243.38" cy="105.68" r="0.75" fill="#ffffff" stroke="#858585" stroke-width="0.4"/>
<path d="M209.60,107.50 L209.97,106.69 L210.35,105.90 L210.72,105.11 L211.09,104.34 L211.47,103.58 L211.84,102.83 L212.21,102.09 L212.59,101.37 L212.96,100.67 L213.33,99.98 L213.71,99.31 L214.08,98.66 L214.45,98.03 L214.83,97.42 L215.20,96.84 L215.57,96.29 L215.95,95.77 L216.32,95.30 L216.69,94.90 L217.07,94.69 L217.44,94.97 L217.81,95.31 L218.19,95.69 L218.56,96.11 L218.93,96.55 L219.31,97.01 L219.68,97.49 L220.05,97.99 L220.43,98.50 L220.80,99.02 L221.17,99.56 L221.55,100.11 L221.92,100.67 L222.29,101.24 L222.67,101.83 L223.04,102.42 L223.41,103.02 L223.79,103.62 L224.16,104.24 L224.53,104.87 L224.91,105.50 L225.28,106.14 L225.65,106.79 L226.03,107.44 L226.40,108.10 L226.77,107.44 L227.15,106.79 L227.52,106.14 L227.89,105.50 L228.27,104.87 L228.64,104.24 L229.01,103.62 L229.39,103.02 L229.76,102.42 L230.13,101.83 L230.51,101.24 L230.88,100.67 L231.25,100.11 L231.63,99.56 L232.00,99.02 L232.37,98.50 L232.75,97.99 L233.12,97.49 L233.49,97.01 L233.87,96.55 L234.24,96.11 L234.61,95.69 L234.99,95.31 L235.36,94.97 L235.73,94.69 L236.11,94.90 L236.48,95.30 L236.85,95.77 L237.23,96.29 L237.60,96.84 L237.97,97.42 L238.35,98.03 L238.72,98.66 L239.09,99.31 L239.47,99.98 L239.84,100.67 L240.21,101.37 L240.59,102.09 L240.96,102.83 L241.33,103.58 L241.71,104.34 L242.08,105.11 L242.45,105.90 L242.83,106.69 L243.20,107.50" fill="none" stroke="#555555" stroke-width="0.6" stroke-linejoin="round"/>
<rect x="206.50" y="106.80" width="3.0" height="1.4" fill="none" stroke="#707070" stroke-width="0.5"/>
<rect x="243.30" y="106.80" width="3.0" height="1.4" fill="none" stroke="#707070" stroke-width="0.5"/>
<path d="M202.90,184.23 L203.08,184.20 L203.26,184.17 L203.44,184.13 L203.62,184.09 L203.80,184.05 L203.98,184.00 L204.16,183.95 L204.34,183.89 L204.52,183.83 L204.70,183.77 L204.88,183.70 L205.06,183.62 L205.24,183.53 L205.42,183.44 L205.60,183.35 L205.78,183.24 L205.96,183.12 L206.14,183.00 L206.32,182.86 L206.50,182.71 L206.68,182.55 L206.86,182.37 L207.04,182.19 L207.22,181.98 L207.40,181.76 L207.58,181.51 L207.76,181.25 L207.94,180.96 L208.12,180.65 L208.30,180.32 L208.48,179.95 L208.66,179.56 L208.84,179.13 L209.02,178.66 L209.20,178.15 L209.38,177.60 L209.56,177.05 L209.74,176.58 L209.92,176.10 L210.10,175.63 L210.28,175.17 L210.46,174.73 L210.64,174.31 L210.82,173.92 L211.00,173.57 L211.18,173.26 L211.36,172.99 L211.54,172.77 L211.72,172.59 L211.90,172.48 L212.08,172.41 L212.26,172.40 L212.44,172.45 L212.62,172.55 L212.80,172.70 L212.98,172.91 L213.16,173.16 L213.34,173.46 L213.52,173.80 L213.70,174.18 L213.88,174.58 L214.06,175.02 L214.24,175.47 L214.42,175.94 L214.60,176.42 L214.78,176.90 L214.96,177.37 L215.14,177.83 L215.32,178.28 L215.50,178.70 L215.68,179.10 L215.86,179.46 L216.04,179.78 L216.22,180.06 L216.40,180.29 L216.58,180.47 L216.76,180.60 L216.94,180.68 L217.12,180.70 L217.30,180.67 L217.48,180.58 L217.66,180.44 L217.84,180.24 L218.02,180.00 L218.20,179.71 L218.38,179.38 L218.56,179.01 L218.74,178.61 L218.92,178.18 L219.10,177.73 L219.28,177.26 L219.46,176.79 L219.64,176.31 L219.82,175.84 L220.00,175.37 L220.18,174.92 L220.36,174.49 L220.54,174.09 L220.72,173.72 L220.90,173.39 L221.08,173.10 L221.26,172.86 L221.44,172.66 L221.62,172.52 L221.80,172.43 L221.98,172.40 L222.16,172.42 L222.34,172.50 L222.52,172.63 L222.70,172.81 L222.88,173.04 L223.06,173.32 L223.24,173.64 L223.42,174.00 L223.60,174.40 L223.78,174.82 L223.96,175.27 L224.14,175.73 L224.32,176.20 L224.50,176.68 L224.68,177.16 L224.86,178.44 L225.04,179.65 L225.22,180.67 L225.40,181.52 L225.58,182.22 L225.76,182.76 L225.94,183.17 L226.12,183.44 L226.30,183.58 L226.48,183.59 L226.66,183.46 L226.84,183.19 L227.02,182.78 L227.20,182.23 L227.38,181.52 L227.56,180.65 L227.74,179.61 L227.92,178.38 L228.10,176.95 L228.28,176.47 L228.46,175.99 L228.64,175.52 L228.82,175.07 L229.00,174.63 L229.18,174.22 L229.36,173.84 L229.54,173.50 L229.72,173.19 L229.90,172.93 L230.08,172.72 L230.26,172.56 L230.44,172.46 L230.62,172.41 L230.80,172.41 L230.98,172.47 L231.16,172.58 L231.34,172.74 L231.52,172.96 L231.70,173.22 L231.88,173.53 L232.06,173.88 L232.24,174.26 L232.42,174.68 L232.60,175.12 L232.78,175.57 L232.96,176.05 L233.14,176.52 L233.32,177.00 L233.50,177.47 L233.68,177.93 L233.86,178.37 L234.04,178.79 L234.22,179.18 L234.40,179.53 L234.58,179.84 L234.76,180.11 L234.94,180.33 L235.12,180.51 L235.30,180.62 L235.48,180.69 L235.66,180.70 L235.84,180.65 L236.02,180.55 L236.20,180.40 L236.38,180.19 L236.56,179.94 L236.74,179.64 L236.92,179.30 L237.10,178.92 L237.28,178.52 L237.46,178.08 L237.64,177.63 L237.82,177.16 L238.00,176.68 L238.18,176.20 L238.36,175.73 L238.54,175.27 L238.72,174.82 L238.90,174.40 L239.08,174.00 L239.26,173.64 L239.44,173.32 L239.62,173.04 L239.80,172.81 L239.98,172.63 L240.16,172.50 L240.34,172.42 L240.52,172.40 L240.70,172.43 L240.88,172.52 L241.06,172.66 L241.24,172.86 L241.42,173.10 L241.60,173.39 L241.78,173.72 L241.96,174.09 L242.14,174.49 L242.32,174.92 L242.50,175.37 L242.68,175.84 L242.86,176.31 L243.04,176.79 L243.22,177.35 L243.40,177.92 L243.58,178.45 L243.76,178.93 L243.94,179.38 L244.12,179.79 L244.30,180.17 L244.48,180.51 L244.66,180.83 L244.84,181.13 L245.02,181.40 L245.20,181.65 L245.38,181.89 L245.56,182.10 L245.74,182.30 L245.92,182.48 L246.10,182.64 L246.28,182.80 L246.46,182.94 L246.64,183.07 L246.82,183.19 L247.00,183.30 L247.18,183.40 L247.36,183.50 L247.54,183.58 L247.72,183.66 L247.90,183.74 L248.08,183.80 L248.26,183.87 L248.44,183.92 L248.62,183.98 L248.80,184.03 L248.98,184.07 L249.16,184.11 L249.34,184.15 L249.52,184.19 L249.70,184.22" fill="none" stroke="#fa2630" stroke-width="1.0" stroke-linejoin="round"/>
<path d="M202.90,187.80 L203.08,187.78 L203.26,187.76 L203.44,187.74 L203.62,187.72 L203.80,187.70 L203.98,187.67 L204.16,187.64 L204.34,187.61 L204.52,187.58 L204.70,187.54 L204.88,187.50 L205.06,187.46 L205.24,187.41 L205.42,187.36 L205.60,187.31 L205.78,187.25 L205.96,187.19 L206.14,187.12 L206.32,187.04 L206.50,186.96 L206.68,186.87 L206.86,186.78 L207.04,186.67 L207.22,186.56 L207.40,186.44 L207.58,186.30 L207.76,186.16 L207.94,186.00 L208.12,185.83 L208.30,185.65 L208.48,185.45 L208.66,185.23 L208.84,184.99 L209.02,184.74 L209.20,184.46 L209.38,184.16 L209.56,183.69 L209.74,182.92 L209.92,182.14 L210.10,181.35 L210.28,180.58 L210.46,179.82 L210.64,179.09 L210.82,178.40 L211.00,177.76 L211.18,177.18 L211.36,176.66 L211.54,176.22 L211.72,175.86 L211.90,175.59 L212.08,175.40 L212.26,175.31 L212.44,175.31 L212.62,175.40 L212.80,175.59 L212.98,175.86 L213.16,176.22 L213.34,176.66 L213.52,177.18 L213.70,177.76 L213.88,178.40 L214.06,179.09 L214.24,179.82 L214.42,180.58 L214.60,181.35 L214.78,182.14 L214.96,182.92 L215.14,183.69 L215.32,184.43 L215.50,185.14 L215.68,185.80 L215.86,186.40 L216.04,186.94 L216.22,187.41 L216.40,187.81 L216.58,188.11 L216.76,188.33 L216.94,188.46 L217.12,188.50 L217.30,188.44 L217.48,188.29 L217.66,188.05 L217.84,187.73 L218.02,187.32 L218.20,186.83 L218.38,186.27 L218.56,185.65 L218.74,184.98 L218.92,184.27 L219.10,183.52 L219.28,182.75 L219.46,181.97 L219.64,181.18 L219.82,180.41 L220.00,179.65 L220.18,178.93 L220.36,178.25 L220.54,177.63 L220.72,177.06 L220.90,176.56 L221.08,176.14 L221.26,175.80 L221.44,175.54 L221.62,175.38 L221.80,175.30 L221.98,175.32 L222.16,175.44 L222.34,175.64 L222.52,175.94 L222.70,176.32 L222.88,176.77 L223.06,177.30 L223.24,177.90 L223.42,178.55 L223.60,179.25 L223.78,179.99 L223.96,180.75 L224.14,181.53 L224.32,182.31 L224.50,183.09 L224.68,183.86 L224.86,183.74 L225.04,183.54 L225.22,183.38 L225.40,183.24 L225.58,183.13 L225.76,183.04 L225.94,182.97 L226.12,182.93 L226.30,182.90 L226.48,182.90 L226.66,182.91 L226.84,182.94 L227.02,182.98 L227.20,183.03 L227.38,183.09 L227.56,183.17 L227.74,183.27 L227.92,183.39 L228.10,183.52 L228.28,182.75 L228.46,181.97 L228.64,181.18 L228.82,180.41 L229.00,179.65 L229.18,178.93 L229.36,178.25 L229.54,177.63 L229.72,177.06 L229.90,176.56 L230.08,176.14 L230.26,175.80 L230.44,175.54 L230.62,175.38 L230.80,175.30 L230.98,175.32 L231.16,175.44 L231.34,175.64 L231.52,175.94 L231.70,176.32 L231.88,176.77 L232.06,177.30 L232.24,177.90 L232.42,178.55 L232.60,179.25 L232.78,179.99 L232.96,180.75 L233.14,181.53 L233.32,182.31 L233.50,183.09 L233.68,183.86 L233.86,184.59 L234.04,185.29 L234.22,185.94 L234.40,186.53 L234.58,187.05 L234.76,187.51 L234.94,187.88 L235.12,188.17 L235.30,188.37 L235.48,188.48 L235.66,188.49 L235.84,188.42 L236.02,188.25 L236.20,187.99 L236.38,187.64 L236.56,187.21 L236.74,186.71 L236.92,186.14 L237.10,185.51 L237.28,184.83 L237.46,184.10 L237.64,183.35 L237.82,182.58 L238.00,181.79 L238.18,181.01 L238.36,180.24 L238.54,179.49 L238.72,178.78 L238.90,178.11 L239.08,177.49 L239.26,176.94 L239.44,176.46 L239.62,176.05 L239.80,175.73 L239.98,175.50 L240.16,175.35 L240.34,175.30 L240.52,175.34 L240.70,175.48 L240.88,175.70 L241.06,176.01 L241.24,176.41 L241.42,176.88 L241.60,177.43 L241.78,178.04 L241.96,178.70 L242.14,179.41 L242.32,180.15 L242.50,180.92 L242.68,181.70 L242.86,182.49 L243.04,183.27 L243.22,183.76 L243.40,184.09 L243.58,184.40 L243.76,184.68 L243.94,184.94 L244.12,185.18 L244.30,185.40 L244.48,185.61 L244.66,185.80 L244.84,185.97 L245.02,186.13 L245.20,186.28 L245.38,186.41 L245.56,186.54 L245.74,186.65 L245.92,186.76 L246.10,186.85 L246.28,186.94 L246.46,187.03 L246.64,187.10 L246.82,187.17 L247.00,187.24 L247.18,187.30 L247.36,187.35 L247.54,187.40 L247.72,187.45 L247.90,187.49 L248.08,187.53 L248.26,187.57 L248.44,187.60 L248.62,187.64 L248.80,187.66 L248.98,187.69 L249.16,187.71 L249.34,187.74 L249.52,187.76 L249.70,187.78" fill="none" stroke="#fa2630" stroke-width="1.0" stroke-linejoin="round"/>
<path d="M205.70,212.20 L205.89,212.20 L206.07,212.20 L206.26,212.20 L206.45,212.20 L206.64,212.20 L206.82,212.20 L207.01,212.20 L207.20,212.20 L207.39,212.20 L207.57,212.20 L207.76,212.20 L207.95,212.20 L208.13,212.20 L208.32,212.20 L208.51,212.20 L208.70,212.20 L208.88,212.20 L209.07,212.20 L209.26,212.20 L209.45,212.20 L209.63,210.85 L209.82,210.49 L210.01,210.14 L210.19,209.79 L210.38,209.44 L210.57,209.09 L210.76,208.74 L210.94,208.39 L211.13,208.04 L211.32,207.69 L211.51,207.35 L211.69,207.01 L211.88,206.67 L212.07,206.33 L212.25,205.99 L212.44,205.66 L212.63,205.32 L212.82,205.00 L213.00,204.67 L213.19,204.35 L213.38,204.03 L213.57,203.72 L213.75,203.41 L213.94,203.10 L214.13,202.80 L214.31,202.51 L214.50,202.23 L214.69,201.96 L214.88,201.69 L215.06,201.44 L215.25,201.20 L215.44,200.97 L215.63,200.76 L215.81,200.57 L216.00,200.40 L216.19,200.25 L216.37,200.12 L216.56,200.02 L216.75,199.95 L216.94,199.91 L217.12,199.90 L217.31,199.92 L217.50,199.97 L217.69,200.05 L217.87,200.15 L218.06,200.28 L218.25,200.44 L218.43,200.62 L218.62,200.81 L218.81,201.03 L219.00,201.26 L219.18,201.50 L219.37,201.76 L219.56,202.02 L219.75,202.30 L219.93,202.59 L220.12,202.88 L220.31,203.18 L220.49,203.48 L220.68,203.79 L220.87,204.11 L221.06,204.43 L221.24,204.75 L221.43,205.08 L221.62,205.41 L221.81,205.74 L221.99,206.08 L222.18,206.41 L222.37,206.75 L222.55,207.09 L222.74,207.44 L222.93,207.78 L223.12,208.13 L223.30,208.48 L223.49,208.82 L223.68,209.17 L223.87,209.52 L224.05,209.88 L224.24,210.23 L224.43,210.58 L224.61,210.94 L224.80,211.60 L224.99,211.60 L225.18,211.60 L225.36,211.60 L225.55,211.60 L225.74,211.60 L225.93,211.60 L226.11,211.60 L226.30,211.60 L226.49,211.60 L226.67,211.60 L226.86,211.60 L227.05,211.60 L227.24,211.60 L227.42,211.60 L227.61,211.60 L227.80,211.60 L227.99,211.60 L228.17,210.96 L228.36,210.60 L228.55,210.24 L228.73,209.88 L228.92,209.53 L229.11,209.17 L229.30,208.82 L229.48,208.46 L229.67,208.11 L229.86,207.76 L230.05,207.41 L230.23,207.06 L230.42,206.72 L230.61,206.38 L230.79,206.03 L230.98,205.69 L231.17,205.36 L231.36,205.02 L231.54,204.69 L231.73,204.37 L231.92,204.04 L232.11,203.73 L232.29,203.41 L232.48,203.10 L232.67,202.80 L232.85,202.51 L233.04,202.22 L233.23,201.94 L233.42,201.68 L233.60,201.42 L233.79,201.18 L233.98,200.95 L234.17,200.74 L234.35,200.55 L234.54,200.38 L234.73,200.23 L234.91,200.10 L235.10,200.01 L235.29,199.94 L235.48,199.91 L235.66,199.90 L235.85,199.93 L236.04,199.98 L236.23,200.07 L236.41,200.19 L236.60,200.33 L236.79,200.49 L236.97,200.68 L237.16,200.88 L237.35,201.10 L237.54,201.34 L237.72,201.59 L237.91,201.86 L238.10,202.13 L238.29,202.42 L238.47,202.71 L238.66,203.01 L238.85,203.31 L239.03,203.62 L239.22,203.94 L239.41,204.26 L239.60,204.59 L239.78,204.92 L239.97,205.25 L240.16,205.59 L240.35,205.92 L240.53,206.27 L240.72,206.61 L240.91,206.95 L241.09,207.30 L241.28,207.65 L241.47,208.00 L241.66,208.35 L241.84,208.70 L242.03,209.06 L242.22,209.41 L242.41,209.77 L242.59,210.13 L242.78,210.49 L242.97,210.85 L243.15,212.20 L243.34,212.20 L243.53,212.20 L243.72,212.20 L243.90,212.20 L244.09,212.20 L244.28,212.20 L244.47,212.20 L244.65,212.20 L244.84,212.20 L245.03,212.20 L245.21,212.20 L245.40,212.20 L245.59,212.20 L245.78,212.20 L245.96,212.20 L246.15,212.20 L246.34,212.20 L246.53,212.20 L246.71,212.20 L246.90,212.20" fill="none" stroke="#fa2630" stroke-width="1.0" stroke-linejoin="round"/>
<path d="M205.20,211.30 L205.39,211.30 L205.57,211.30 L205.76,211.30 L205.95,211.30 L206.14,211.30 L206.32,211.30 L206.51,211.30 L206.70,211.30 L206.89,211.30 L207.07,211.30 L207.26,211.30 L207.45,211.30 L207.63,211.30 L207.82,211.30 L208.01,211.30 L208.20,211.30 L208.38,211.30 L208.57,211.30 L208.76,211.30 L208.95,211.30 L209.13,209.95 L209.32,209.59 L209.51,209.24 L209.69,208.89 L209.88,208.54 L210.07,208.19 L210.26,207.84 L210.44,207.49 L210.63,207.14 L210.82,206.79 L211.01,206.45 L211.19,206.11 L211.38,205.77 L211.57,205.43 L211.75,205.09 L211.94,204.76 L212.13,204.42 L212.32,204.10 L212.50,203.77 L212.69,203.45 L212.88,203.13 L213.07,202.82 L213.25,202.51 L213.44,202.20 L213.63,201.90 L213.81,201.61 L214.00,201.33 L214.19,201.06 L214.38,200.79 L214.56,200.54 L214.75,200.30 L214.94,200.07 L215.13,199.86 L215.31,199.67 L215.50,199.50 L215.69,199.35 L215.87,199.22 L216.06,199.12 L216.25,199.05 L216.44,199.01 L216.62,199.00 L216.81,199.02 L217.00,199.07 L217.19,199.15 L217.37,199.25 L217.56,199.38 L217.75,199.54 L217.93,199.72 L218.12,199.91 L218.31,200.13 L218.50,200.36 L218.68,200.60 L218.87,200.86 L219.06,201.12 L219.25,201.40 L219.43,201.69 L219.62,201.98 L219.81,202.28 L219.99,202.58 L220.18,202.89 L220.37,203.21 L220.56,203.53 L220.74,203.85 L220.93,204.18 L221.12,204.51 L221.31,204.84 L221.49,205.18 L221.68,205.51 L221.87,205.85 L222.05,206.19 L222.24,206.54 L222.43,206.88 L222.62,207.23 L222.80,207.58 L222.99,207.92 L223.18,208.27 L223.37,208.62 L223.55,208.98 L223.74,209.33 L223.93,209.68 L224.11,210.04 L224.30,210.70 L224.49,210.70 L224.68,210.70 L224.86,210.70 L225.05,210.70 L225.24,210.70 L225.43,210.70 L225.61,210.70 L225.80,210.70 L225.99,210.70 L226.17,210.70 L226.36,210.70 L226.55,210.70 L226.74,210.70 L226.92,210.70 L227.11,210.70 L227.30,210.70 L227.49,210.70 L227.67,210.06 L227.86,209.70 L228.05,209.34 L228.23,208.98 L228.42,208.63 L228.61,208.27 L228.80,207.92 L228.98,207.56 L229.17,207.21 L229.36,206.86 L229.55,206.51 L229.73,206.16 L229.92,205.82 L230.11,205.48 L230.29,205.13 L230.48,204.79 L230.67,204.46 L230.86,204.12 L231.04,203.79 L231.23,203.47 L231.42,203.14 L231.61,202.83 L231.79,202.51 L231.98,202.20 L232.17,201.90 L232.35,201.61 L232.54,201.32 L232.73,201.04 L232.92,200.78 L233.10,200.52 L233.29,200.28 L233.48,200.05 L233.67,199.84 L233.85,199.65 L234.04,199.48 L234.23,199.33 L234.41,199.20 L234.60,199.11 L234.79,199.04 L234.98,199.01 L235.16,199.00 L235.35,199.03 L235.54,199.08 L235.73,199.17 L235.91,199.29 L236.10,199.43 L236.29,199.59 L236.47,199.78 L236.66,199.98 L236.85,200.20 L237.04,200.44 L237.22,200.69 L237.41,200.96 L237.60,201.23 L237.79,201.52 L237.97,201.81 L238.16,202.11 L238.35,202.41 L238.53,202.72 L238.72,203.04 L238.91,203.36 L239.10,203.69 L239.28,204.02 L239.47,204.35 L239.66,204.69 L239.85,205.02 L240.03,205.37 L240.22,205.71 L240.41,206.05 L240.59,206.40 L240.78,206.75 L240.97,207.10 L241.16,207.45 L241.34,207.80 L241.53,208.16 L241.72,208.51 L241.91,208.87 L242.09,209.23 L242.28,209.59 L242.47,209.95 L242.65,211.30 L242.84,211.30 L243.03,211.30 L243.22,211.30 L243.40,211.30 L243.59,211.30 L243.78,211.30 L243.97,211.30 L244.15,211.30 L244.34,211.30 L244.53,211.30 L244.71,211.30 L244.90,211.30 L245.09,211.30 L245.28,211.30 L245.46,211.30 L245.65,211.30 L245.84,211.30 L246.03,211.30 L246.21,211.30 L246.40,211.30" fill="none" stroke="#fa2630" stroke-width="0.8" stroke-linejoin="round"/>
<line x1="205.60" y1="212.30" x2="209.40" y2="212.30" stroke="#fa2630" stroke-width="1.6"/>
<line x1="243.40" y1="212.30" x2="247.20" y2="212.30" stroke="#fa2630" stroke-width="1.6"/>
<line x1="272.40" y1="116.40" x2="305.50" y2="116.40" stroke="#80d65c" stroke-width="0.85" stroke-dasharray="3.9,2.3"/>
<path d="M277.55,132.18 L277.82,132.14 L278.10,132.09 L278.38,132.03 L278.65,131.97 L278.93,131.91 L279.20,131.83 L279.48,131.75 L279.75,131.66 L280.03,131.56 L280.30,131.45 L280.57,131.32 L280.85,131.18 L281.12,131.03 L281.40,130.87 L281.68,130.68 L281.95,130.47 L282.23,130.25 L282.50,130.00 L282.78,129.72 L283.05,129.41 L283.32,129.07 L283.60,128.69 L283.88,128.27 L284.15,127.81 L284.43,127.30 L284.70,126.73 L284.98,126.11 L285.25,125.41 L285.53,124.65 L285.80,123.81 L286.07,122.87 L286.35,121.84 L286.62,120.71 L286.90,119.47 L287.18,118.11 L287.45,116.63 L287.73,115.05 L288.00,113.43 L288.28,111.97 L288.55,111.29 L288.82,111.97 L289.10,113.43 L289.38,115.05 L289.65,116.63 L289.93,118.11 L290.20,119.47 L290.48,120.71 L290.75,121.84 L291.03,122.87 L291.30,123.81 L291.57,124.65 L291.85,125.41 L292.12,126.11 L292.40,126.73 L292.68,127.30 L292.95,127.81 L293.23,128.27 L293.50,128.69 L293.78,129.07 L294.05,129.41 L294.32,129.72 L294.60,130.00 L294.88,130.25 L295.15,130.47 L295.43,130.68 L295.70,130.87 L295.98,131.03 L296.25,131.18 L296.53,131.32 L296.80,131.45 L297.07,131.56 L297.35,131.66 L297.62,131.75 L297.90,131.83 L298.18,131.91 L298.45,131.97 L298.73,132.03 L299.00,132.09 L299.28,132.14 L299.55,132.18" fill="none" stroke="#66d03a" stroke-width="0.8"/>
<path d="M282.25,141.94 L282.41,141.85 L282.56,141.76 L282.72,141.66 L282.88,141.55 L283.04,141.43 L283.19,141.30 L283.35,141.15 L283.51,141.00 L283.67,140.82 L283.82,140.63 L283.98,140.42 L284.14,140.19 L284.30,139.94 L284.45,139.66 L284.61,139.36 L284.77,139.02 L284.93,138.66 L285.08,138.26 L285.24,137.82 L285.40,137.34 L285.56,136.82 L285.72,136.24 L285.87,135.61 L286.03,134.92 L286.19,134.17 L286.35,133.34 L286.50,132.44 L286.66,131.45 L286.82,130.38 L286.98,129.20 L287.13,127.93 L287.29,126.54 L287.45,125.05 L287.61,123.44 L287.76,121.73 L287.92,119.95 L288.08,118.16 L288.24,116.48 L288.39,115.20 L288.55,114.69 L288.71,115.20 L288.87,116.48 L289.02,118.16 L289.18,119.95 L289.34,121.73 L289.50,123.44 L289.65,125.05 L289.81,126.54 L289.97,127.93 L290.12,129.20 L290.28,130.38 L290.44,131.45 L290.60,132.44 L290.75,133.34 L290.91,134.17 L291.07,134.92 L291.23,135.61 L291.38,136.24 L291.54,136.82 L291.70,137.34 L291.86,137.82 L292.02,138.26 L292.17,138.66 L292.33,139.02 L292.49,139.36 L292.65,139.66 L292.80,139.94 L292.96,140.19 L293.12,140.42 L293.28,140.63 L293.43,140.82 L293.59,141.00 L293.75,141.15 L293.91,141.30 L294.06,141.43 L294.22,141.55 L294.38,141.66 L294.54,141.76 L294.69,141.85 L294.85,141.94" fill="none" stroke="#5cbdea" stroke-width="0.7"/>
<line x1="272.40" y1="134.50" x2="272.40" y2="148.30" stroke="#5cbdea" stroke-width="0.8" stroke-dasharray="1.6,1.6" stroke-dashoffset="1.6"/>
<line x1="272.40" y1="116.40" x2="272.40" y2="148.30" stroke="#66d03a" stroke-width="0.8" stroke-dasharray="1.6,1.6"/>
<line x1="272.40" y1="148.30" x2="272.40" y2="221.20" stroke="#f2555c" stroke-width="0.9"/>
<line x1="286.60" y1="134.50" x2="286.60" y2="148.30" stroke="#5cbdea" stroke-width="0.8" stroke-dasharray="1.6,1.6" stroke-dashoffset="1.6"/>
<line x1="286.60" y1="116.40" x2="286.60" y2="148.30" stroke="#66d03a" stroke-width="0.8" stroke-dasharray="1.6,1.6"/>
<line x1="286.60" y1="148.30" x2="286.60" y2="221.20" stroke="#f2555c" stroke-width="0.9"/>
<line x1="290.50" y1="134.50" x2="290.50" y2="148.30" stroke="#5cbdea" stroke-width="0.8" stroke-dasharray="1.6,1.6" stroke-dashoffset="1.6"/>
<line x1="290.50" y1="116.40" x2="290.50" y2="148.30" stroke="#66d03a" stroke-width="0.8" stroke-dasharray="1.6,1.6"/>
<line x1="290.50" y1="148.30" x2="290.50" y2="221.20" stroke="#f2555c" stroke-width="0.9"/>
<line x1="305.50" y1="134.50" x2="305.50" y2="148.30" stroke="#5cbdea" stroke-width="0.8" stroke-dasharray="1.6,1.6" stroke-dashoffset="1.6"/>
<line x1="305.50" y1="116.40" x2="305.50" y2="148.30" stroke="#66d03a" stroke-width="0.8" stroke-dasharray="1.6,1.6"/>
<line x1="305.50" y1="148.30" x2="305.50" y2="221.20" stroke="#f2555c" stroke-width="0.9"/>
<line x1="272.40" y1="221.20" x2="286.60" y2="221.20" stroke="#f2555c" stroke-width="0.9"/>
<line x1="290.50" y1="221.20" x2="305.50" y2="221.20" stroke="#f2555c" stroke-width="0.9"/>
<circle cx="270.95" cy="107.00" r="0.75" fill="#ffffff" stroke="#858585" stroke-width="0.4"/>
<circle cx="271.63" cy="105.55" r="0.75" fill="#ffffff" stroke="#858585" stroke-width="0.4"/>
<circle cx="272.33" cy="104.11" r="0.75" fill="#ffffff" stroke="#858585" stroke-width="0.4"/>
<circle cx="273.04" cy="102.68" r="0.75" fill="#ffffff" stroke="#858585" stroke-width="0.4"/>
<circle cx="273.77" cy="101.26" r="0.75" fill="#ffffff" stroke="#858585" stroke-width="0.4"/>
<circle cx="274.53" cy="99.85" r="0.75" fill="#ffffff" stroke="#858585" stroke-width="0.4"/>
<circle cx="275.32" cy="98.45" r="0.75" fill="#ffffff" stroke="#858585" stroke-width="0.4"/>
<circle cx="276.14" cy="97.08" r="0.75" fill="#ffffff" stroke="#858585" stroke-width="0.4"/>
<circle cx="277.03" cy="95.75" r="0.75" fill="#ffffff" stroke="#858585" stroke-width="0.4"/>
<circle cx="278.03" cy="94.51" r="0.75" fill="#ffffff" stroke="#858585" stroke-width="0.4"/>
<circle cx="279.30" cy="94.84" r="0.75" fill="#ffffff" stroke="#858585" stroke-width="0.4"/>
<circle cx="280.38" cy="96.02" r="0.75" fill="#ffffff" stroke="#858585" stroke-width="0.4"/>
<circle cx="281.37" cy="97.27" r="0.75" fill="#ffffff" stroke="#858585" stroke-width="0.4"/>
<circle cx="282.32" cy="98.56" r="0.75" fill="#ffffff" stroke="#858585" stroke-width="0.4"/>
<circle cx="283.22" cy="99.88" r="0.75" fill="#ffffff" stroke="#858585" stroke-width="0.4"/>
<circle cx="284.10" cy="101.21" r="0.75" fill="#ffffff" stroke="#858585" stroke-width="0.4"/>
<circle cx="284.96" cy="102.56" r="0.75" fill="#ffffff" stroke="#858585" stroke-width="0.4"/>
<circle cx="285.80" cy="103.93" r="0.75" fill="#ffffff" stroke="#858585" stroke-width="0.4"/>
<circle cx="286.62" cy="105.30" r="0.75" fill="#ffffff" stroke="#858585" stroke-width="0.4"/>
<circle cx="287.43" cy="106.68" r="0.75" fill="#ffffff" stroke="#858585" stroke-width="0.4"/>
<circle cx="288.78" cy="107.44" r="0.75" fill="#ffffff" stroke="#858585" stroke-width="0.4"/>
<circle cx="289.74" cy="106.56" r="0.75" fill="#ffffff" stroke="#858585" stroke-width="0.4"/>
<circle cx="290.55" cy="105.18" r="0.75" fill="#ffffff" stroke="#858585" stroke-width="0.4"/>
<circle cx="291.37" cy="103.81" r="0.75" fill="#ffffff" stroke="#858585" stroke-width="0.4"/>
<circle cx="292.21" cy="102.45" r="0.75" fill="#ffffff" stroke="#858585" stroke-width="0.4"/>
<circle cx="293.07" cy="101.10" r="0.75" fill="#ffffff" stroke="#858585" stroke-width="0.4"/>
<circle cx="293.95" cy="99.76" r="0.75" fill="#ffffff" stroke="#858585" stroke-width="0.4"/>
<circle cx="294.86" cy="98.45" r="0.75" fill="#ffffff" stroke="#858585" stroke-width="0.4"/>
<circle cx="295.81" cy="97.16" r="0.75" fill="#ffffff" stroke="#858585" stroke-width="0.4"/>
<circle cx="296.81" cy="95.91" r="0.75" fill="#ffffff" stroke="#858585" stroke-width="0.4"/>
<circle cx="297.90" cy="94.74" r="0.75" fill="#ffffff" stroke="#858585" stroke-width="0.4"/>
<circle cx="299.16" cy="94.61" r="0.75" fill="#ffffff" stroke="#858585" stroke-width="0.4"/>
<circle cx="300.15" cy="95.87" r="0.75" fill="#ffffff" stroke="#858585" stroke-width="0.4"/>
<circle cx="301.03" cy="97.20" r="0.75" fill="#ffffff" stroke="#858585" stroke-width="0.4"/>
<circle cx="301.85" cy="98.58" r="0.75" fill="#ffffff" stroke="#858585" stroke-width="0.4"/>
<circle cx="302.64" cy="99.97" r="0.75" fill="#ffffff" stroke="#858585" stroke-width="0.4"/>
<circle cx="303.39" cy="101.38" r="0.75" fill="#ffffff" stroke="#858585" stroke-width="0.4"/>
<circle cx="304.12" cy="102.80" r="0.75" fill="#ffffff" stroke="#858585" stroke-width="0.4"/>
<circle cx="304.83" cy="104.24" r="0.75" fill="#ffffff" stroke="#858585" stroke-width="0.4"/>
<circle cx="305.53" cy="105.68" r="0.75" fill="#ffffff" stroke="#858585" stroke-width="0.4"/>
<path d="M271.75,107.50 L272.12,106.69 L272.50,105.90 L272.87,105.11 L273.24,104.34 L273.62,103.58 L273.99,102.83 L274.36,102.09 L274.74,101.37 L275.11,100.67 L275.48,99.98 L275.86,99.31 L276.23,98.66 L276.60,98.03 L276.98,97.42 L277.35,96.84 L277.72,96.29 L278.10,95.77 L278.47,95.30 L278.84,94.90 L279.22,94.69 L279.59,94.97 L279.96,95.31 L280.34,95.69 L280.71,96.11 L281.08,96.55 L281.46,97.01 L281.83,97.49 L282.20,97.99 L282.58,98.50 L282.95,99.02 L283.32,99.56 L283.70,100.11 L284.07,100.67 L284.44,101.24 L284.82,101.83 L285.19,102.42 L285.56,103.02 L285.94,103.62 L286.31,104.24 L286.68,104.87 L287.06,105.50 L287.43,106.14 L287.80,106.79 L288.18,107.44 L288.55,108.10 L288.92,107.44 L289.30,106.79 L289.67,106.14 L290.04,105.50 L290.42,104.87 L290.79,104.24 L291.16,103.62 L291.54,103.02 L291.91,102.42 L292.28,101.83 L292.66,101.24 L293.03,100.67 L293.40,100.11 L293.78,99.56 L294.15,99.02 L294.52,98.50 L294.90,97.99 L295.27,97.49 L295.64,97.01 L296.02,96.55 L296.39,96.11 L296.76,95.69 L297.14,95.31 L297.51,94.97 L297.88,94.69 L298.26,94.90 L298.63,95.30 L299.00,95.77 L299.38,96.29 L299.75,96.84 L300.12,97.42 L300.50,98.03 L300.87,98.66 L301.24,99.31 L301.62,99.98 L301.99,100.67 L302.36,101.37 L302.74,102.09 L303.11,102.83 L303.48,103.58 L303.86,104.34 L304.23,105.11 L304.60,105.90 L304.98,106.69 L305.35,107.50" fill="none" stroke="#555555" stroke-width="0.6" stroke-linejoin="round"/>
<rect x="268.65" y="106.80" width="3.0" height="1.4" fill="none" stroke="#707070" stroke-width="0.5"/>
<rect x="305.45" y="106.80" width="3.0" height="1.4" fill="none" stroke="#707070" stroke-width="0.5"/>
<path d="M265.80,184.17 L265.98,184.13 L266.16,184.09 L266.33,184.05 L266.51,184.00 L266.69,183.95 L266.87,183.90 L267.05,183.84 L267.22,183.77 L267.40,183.70 L267.58,183.63 L267.76,183.54 L267.94,183.45 L268.11,183.36 L268.29,183.25 L268.47,183.14 L268.65,183.02 L268.83,182.88 L269.01,182.74 L269.18,182.58 L269.36,182.41 L269.54,182.23 L269.72,182.03 L269.90,181.81 L270.07,181.57 L270.25,181.32 L270.43,181.04 L270.61,180.74 L270.79,180.42 L270.96,180.06 L271.14,179.68 L271.32,179.27 L271.50,178.82 L271.68,178.33 L271.85,177.80 L272.03,177.23 L272.21,176.61 L272.39,175.93 L272.57,175.45 L272.74,175.00 L272.92,174.58 L273.10,174.17 L273.28,173.80 L273.46,173.46 L273.64,173.17 L273.81,172.92 L273.99,172.71 L274.17,172.56 L274.35,172.45 L274.53,172.40 L274.70,172.41 L274.88,172.47 L275.06,172.58 L275.24,172.74 L275.42,172.96 L275.59,173.21 L275.77,173.52 L275.95,173.86 L276.13,174.24 L276.31,174.65 L276.48,175.08 L276.66,175.53 L276.84,175.99 L277.02,176.47 L277.20,176.94 L277.38,177.41 L277.55,177.87 L277.73,178.31 L277.91,178.72 L278.09,179.11 L278.27,179.47 L278.44,179.78 L278.62,180.06 L278.80,180.29 L278.98,180.47 L279.16,180.60 L279.33,180.68 L279.51,180.70 L279.69,180.67 L279.87,180.58 L280.05,180.45 L280.22,180.26 L280.40,180.02 L280.58,179.74 L280.76,179.42 L280.94,179.06 L281.11,178.67 L281.29,178.25 L281.47,177.81 L281.65,177.35 L281.83,176.88 L282.00,176.40 L282.18,175.93 L282.36,175.47 L282.54,175.02 L282.72,174.59 L282.90,174.19 L283.07,173.81 L283.25,173.48 L283.43,173.18 L283.61,172.92 L283.79,172.72 L283.96,172.56 L284.14,172.46 L284.32,172.41 L284.50,172.41 L284.68,172.46 L284.85,172.57 L285.03,172.74 L285.21,172.95 L285.39,173.21 L285.57,173.51 L285.74,173.85 L285.92,174.23 L286.10,174.63 L286.28,175.06 L286.46,175.52 L286.63,176.19 L286.81,177.63 L286.99,178.88 L287.17,179.96 L287.35,180.88 L287.53,181.65 L287.70,182.28 L287.88,182.79 L288.06,183.17 L288.24,183.42 L288.42,183.57 L288.59,183.60 L288.77,183.52 L288.95,183.35 L289.13,183.08 L289.31,182.70 L289.48,182.21 L289.66,181.61 L289.84,180.88 L290.02,180.02 L290.20,179.02 L290.37,177.86 L290.55,176.81 L290.73,176.34 L290.91,175.86 L291.09,175.40 L291.26,174.96 L291.44,174.53 L291.62,174.13 L291.80,173.76 L291.98,173.43 L292.16,173.14 L292.33,172.89 L292.51,172.69 L292.69,172.54 L292.87,172.45 L293.05,172.40 L293.22,172.41 L293.40,172.48 L293.58,172.59 L293.76,172.76 L293.94,172.98 L294.11,173.25 L294.29,173.55 L294.47,173.90 L294.65,174.28 L294.83,174.69 L295.00,175.13 L295.18,175.58 L295.36,176.05 L295.54,176.52 L295.72,176.99 L295.89,177.46 L296.07,177.92 L296.25,178.35 L296.43,178.77 L296.61,179.15 L296.79,179.50 L296.96,179.82 L297.14,180.09 L297.32,180.31 L297.50,180.49 L297.68,180.61 L297.85,180.68 L298.03,180.70 L298.21,180.66 L298.39,180.57 L298.57,180.43 L298.74,180.24 L298.92,180.00 L299.10,179.71 L299.28,179.38 L299.46,179.02 L299.63,178.62 L299.81,178.20 L299.99,177.75 L300.17,177.29 L300.35,176.82 L300.52,176.35 L300.70,175.88 L300.88,175.42 L301.06,174.97 L301.24,174.54 L301.42,174.14 L301.59,173.77 L301.77,173.44 L301.95,173.15 L302.13,172.90 L302.31,172.70 L302.48,172.55 L302.66,172.45 L302.84,172.40 L303.02,172.41 L303.20,172.47 L303.37,172.59 L303.55,172.76 L303.73,172.97 L303.91,173.24 L304.09,173.54 L304.26,173.89 L304.44,174.27 L304.62,174.68 L304.80,175.11 L304.98,175.57 L305.16,176.03 L305.33,176.50 L305.51,176.99 L305.69,177.58 L305.87,178.13 L306.05,178.63 L306.22,179.09 L306.40,179.52 L306.58,179.92 L306.76,180.28 L306.94,180.62 L307.11,180.93 L307.29,181.21 L307.47,181.47 L307.65,181.72 L307.83,181.94 L308.00,182.15 L308.18,182.34 L308.36,182.52 L308.54,182.68 L308.72,182.83 L308.89,182.96 L309.07,183.09 L309.25,183.21 L309.43,183.32 L309.61,183.42 L309.79,183.51 L309.96,183.59 L310.14,183.67 L310.32,183.74 L310.50,183.81 L310.68,183.87 L310.85,183.93 L311.03,183.98 L311.21,184.03 L311.39,184.07 L311.57,184.11 L311.74,184.15 L311.92,184.19 L312.10,184.22" fill="none" stroke="#fa2630" stroke-width="1.0" stroke-linejoin="round"/>
<path d="M265.80,187.69 L265.98,187.66 L266.16,187.64 L266.33,187.61 L266.51,187.57 L266.69,187.54 L266.87,187.50 L267.05,187.46 L267.22,187.41 L267.40,187.36 L267.58,187.31 L267.76,187.25 L267.94,187.18 L268.11,187.11 L268.29,187.04 L268.47,186.96 L268.65,186.87 L268.83,186.78 L269.01,186.67 L269.18,186.56 L269.36,186.44 L269.54,186.31 L269.72,186.17 L269.90,186.01 L270.07,185.84 L270.25,185.66 L270.43,185.46 L270.61,185.25 L270.79,185.02 L270.96,184.77 L271.14,184.49 L271.32,184.20 L271.50,183.88 L271.68,183.53 L271.85,183.15 L272.03,182.75 L272.21,182.30 L272.39,181.82 L272.57,181.06 L272.74,180.30 L272.92,179.56 L273.10,178.85 L273.28,178.18 L273.46,177.57 L273.64,177.01 L273.81,176.53 L273.99,176.11 L274.17,175.78 L274.35,175.53 L274.53,175.37 L274.70,175.30 L274.88,175.33 L275.06,175.44 L275.24,175.64 L275.42,175.93 L275.59,176.30 L275.77,176.75 L275.95,177.27 L276.13,177.86 L276.31,178.50 L276.48,179.19 L276.66,179.91 L276.84,180.67 L277.02,181.44 L277.20,182.21 L277.38,182.99 L277.55,183.74 L277.73,184.48 L277.91,185.17 L278.09,185.82 L278.27,186.42 L278.44,186.95 L278.62,187.42 L278.80,187.80 L278.98,188.11 L279.16,188.33 L279.33,188.46 L279.51,188.50 L279.69,188.45 L279.87,188.31 L280.05,188.07 L280.22,187.76 L280.40,187.36 L280.58,186.89 L280.76,186.34 L280.94,185.74 L281.11,185.08 L281.29,184.38 L281.47,183.64 L281.65,182.88 L281.83,182.11 L282.00,181.33 L282.18,180.56 L282.36,179.81 L282.54,179.09 L282.72,178.41 L282.90,177.78 L283.07,177.20 L283.25,176.69 L283.43,176.25 L283.61,175.89 L283.79,175.61 L283.96,175.42 L284.14,175.32 L284.32,175.31 L284.50,175.39 L284.68,175.56 L284.85,175.82 L285.03,176.16 L285.21,176.59 L285.39,177.08 L285.57,177.65 L285.74,178.27 L285.92,178.94 L286.10,179.66 L286.28,180.40 L286.46,181.17 L286.63,181.83 L286.81,182.04 L286.99,182.22 L287.17,182.38 L287.35,182.51 L287.53,182.62 L287.70,182.71 L287.88,182.78 L288.06,182.84 L288.24,182.87 L288.42,182.90 L288.59,182.90 L288.77,182.91 L288.95,182.92 L289.13,182.95 L289.31,182.98 L289.48,183.03 L289.66,183.09 L289.84,183.15 L290.02,183.23 L290.20,183.33 L290.37,183.43 L290.55,183.30 L290.73,182.53 L290.91,181.75 L291.09,180.98 L291.26,180.22 L291.44,179.48 L291.62,178.77 L291.80,178.11 L291.98,177.50 L292.16,176.96 L292.33,176.48 L292.51,176.07 L292.69,175.75 L292.87,175.51 L293.05,175.36 L293.22,175.30 L293.40,175.33 L293.58,175.46 L293.76,175.67 L293.94,175.97 L294.11,176.35 L294.29,176.81 L294.47,177.34 L294.65,177.93 L294.83,178.57 L295.00,179.27 L295.18,180.00 L295.36,180.75 L295.54,181.52 L295.72,182.30 L295.89,183.07 L296.07,183.83 L296.25,184.56 L296.43,185.25 L296.61,185.89 L296.79,186.48 L296.96,187.01 L297.14,187.46 L297.32,187.84 L297.50,188.14 L297.68,188.35 L297.85,188.47 L298.03,188.50 L298.21,188.44 L298.39,188.28 L298.57,188.04 L298.74,187.72 L298.92,187.31 L299.10,186.83 L299.28,186.28 L299.46,185.67 L299.63,185.00 L299.81,184.30 L299.99,183.56 L300.17,182.80 L300.35,182.02 L300.52,181.25 L300.70,180.48 L300.88,179.73 L301.06,179.01 L301.24,178.34 L301.42,177.71 L301.59,177.14 L301.77,176.63 L301.95,176.20 L302.13,175.85 L302.31,175.58 L302.48,175.40 L302.66,175.31 L302.84,175.31 L303.02,175.40 L303.20,175.59 L303.37,175.85 L303.55,176.21 L303.73,176.64 L303.91,177.14 L304.09,177.72 L304.26,178.34 L304.44,179.02 L304.62,179.74 L304.80,180.49 L304.98,181.25 L305.16,182.03 L305.33,182.81 L305.51,183.54 L305.69,183.89 L305.87,184.21 L306.05,184.50 L306.22,184.78 L306.40,185.03 L306.58,185.26 L306.76,185.47 L306.94,185.67 L307.11,185.85 L307.29,186.02 L307.47,186.17 L307.65,186.31 L307.83,186.44 L308.00,186.56 L308.18,186.68 L308.36,186.78 L308.54,186.87 L308.72,186.96 L308.89,187.04 L309.07,187.12 L309.25,187.19 L309.43,187.25 L309.61,187.31 L309.79,187.36 L309.96,187.41 L310.14,187.46 L310.32,187.50 L310.50,187.54 L310.68,187.57 L310.85,187.61 L311.03,187.64 L311.21,187.67 L311.39,187.69 L311.57,187.72 L311.74,187.74 L311.92,187.76 L312.10,187.78" fill="none" stroke="#fa2630" stroke-width="1.0" stroke-linejoin="round"/>
<path d="M268.60,212.20 L268.78,212.20 L268.97,212.20 L269.15,212.20 L269.34,212.20 L269.52,212.20 L269.71,212.20 L269.89,212.20 L270.08,212.20 L270.26,212.20 L270.45,212.20 L270.63,212.20 L270.82,212.20 L271.00,212.20 L271.19,212.20 L271.37,212.20 L271.56,212.20 L271.74,212.20 L271.93,212.20 L272.11,212.20 L272.30,212.20 L272.48,210.93 L272.67,210.55 L272.85,210.18 L273.04,209.81 L273.22,209.43 L273.41,209.06 L273.59,208.69 L273.78,208.32 L273.96,207.96 L274.15,207.59 L274.33,207.23 L274.52,206.87 L274.70,206.51 L274.89,206.15 L275.07,205.80 L275.26,205.44 L275.44,205.10 L275.63,204.75 L275.81,204.41 L276.00,204.07 L276.19,203.74 L276.37,203.41 L276.55,203.09 L276.74,202.78 L276.92,202.47 L277.11,202.17 L277.29,201.88 L277.48,201.61 L277.66,201.34 L277.85,201.10 L278.03,200.87 L278.22,200.65 L278.40,200.46 L278.59,200.29 L278.77,200.15 L278.96,200.04 L279.14,199.96 L279.33,199.91 L279.51,199.90 L279.70,199.92 L279.88,199.97 L280.07,200.06 L280.25,200.18 L280.44,200.32 L280.62,200.49 L280.81,200.69 L281.00,200.90 L281.18,201.14 L281.36,201.39 L281.55,201.65 L281.73,201.93 L281.92,202.22 L282.10,202.52 L282.29,202.83 L282.47,203.14 L282.66,203.46 L282.84,203.79 L283.03,204.13 L283.21,204.46 L283.40,204.81 L283.58,205.15 L283.77,205.50 L283.95,205.85 L284.14,206.21 L284.32,206.57 L284.51,206.93 L284.69,207.29 L284.88,207.65 L285.06,208.02 L285.25,208.38 L285.44,208.75 L285.62,209.12 L285.81,209.49 L285.99,209.87 L286.18,210.24 L286.36,210.61 L286.54,210.99 L286.73,211.60 L286.91,211.60 L287.10,211.60 L287.28,211.60 L287.47,211.60 L287.65,211.60 L287.84,211.60 L288.02,211.60 L288.21,211.60 L288.39,211.60 L288.58,211.60 L288.76,211.60 L288.95,211.60 L289.13,211.60 L289.32,211.60 L289.50,211.60 L289.69,211.60 L289.88,211.60 L290.06,211.60 L290.25,211.60 L290.43,211.60 L290.62,210.88 L290.80,210.52 L290.99,210.17 L291.17,209.82 L291.36,209.46 L291.54,209.11 L291.72,208.76 L291.91,208.41 L292.09,208.07 L292.28,207.72 L292.46,207.38 L292.65,207.03 L292.83,206.69 L293.02,206.35 L293.20,206.01 L293.39,205.68 L293.57,205.35 L293.76,205.02 L293.94,204.69 L294.13,204.37 L294.31,204.05 L294.50,203.74 L294.69,203.43 L294.87,203.12 L295.06,202.82 L295.24,202.53 L295.43,202.25 L295.61,201.97 L295.80,201.71 L295.98,201.45 L296.17,201.21 L296.35,200.98 L296.53,200.77 L296.72,200.58 L296.90,200.41 L297.09,200.26 L297.27,200.13 L297.46,200.03 L297.64,199.96 L297.83,199.91 L298.01,199.90 L298.20,199.92 L298.38,199.97 L298.57,200.04 L298.75,200.15 L298.94,200.28 L299.12,200.43 L299.31,200.61 L299.50,200.81 L299.68,201.02 L299.87,201.25 L300.05,201.49 L300.24,201.75 L300.42,202.02 L300.61,202.29 L300.79,202.58 L300.98,202.87 L301.16,203.17 L301.35,203.48 L301.53,203.79 L301.72,204.10 L301.90,204.42 L302.08,204.74 L302.27,205.07 L302.45,205.40 L302.64,205.73 L302.82,206.07 L303.01,206.41 L303.19,206.75 L303.38,207.09 L303.56,207.43 L303.75,207.78 L303.94,208.12 L304.12,208.47 L304.31,208.82 L304.49,209.17 L304.68,209.52 L304.86,209.87 L305.05,210.23 L305.23,210.58 L305.42,210.94 L305.60,212.20 L305.79,212.20 L305.97,212.20 L306.16,212.20 L306.34,212.20 L306.52,212.20 L306.71,212.20 L306.89,212.20 L307.08,212.20 L307.26,212.20 L307.45,212.20 L307.63,212.20 L307.82,212.20 L308.00,212.20 L308.19,212.20 L308.38,212.20 L308.56,212.20 L308.75,212.20 L308.93,212.20 L309.12,212.20 L309.30,212.20" fill="none" stroke="#fa2630" stroke-width="1.0" stroke-linejoin="round"/>
<path d="M268.10,211.30 L268.28,211.30 L268.47,211.30 L268.65,211.30 L268.84,211.30 L269.02,211.30 L269.21,211.30 L269.39,211.30 L269.58,211.30 L269.76,211.30 L269.95,211.30 L270.13,211.30 L270.32,211.30 L270.50,211.30 L270.69,211.30 L270.87,211.30 L271.06,211.30 L271.24,211.30 L271.43,211.30 L271.61,211.30 L271.80,211.30 L271.98,210.03 L272.17,209.65 L272.35,209.28 L272.54,208.91 L272.72,208.53 L272.91,208.16 L273.09,207.79 L273.28,207.42 L273.46,207.06 L273.65,206.69 L273.83,206.33 L274.02,205.97 L274.20,205.61 L274.39,205.25 L274.57,204.90 L274.76,204.54 L274.94,204.20 L275.13,203.85 L275.31,203.51 L275.50,203.17 L275.69,202.84 L275.87,202.51 L276.05,202.19 L276.24,201.88 L276.42,201.57 L276.61,201.27 L276.79,200.98 L276.98,200.71 L277.16,200.44 L277.35,200.20 L277.53,199.97 L277.72,199.75 L277.90,199.56 L278.09,199.39 L278.27,199.25 L278.46,199.14 L278.64,199.06 L278.83,199.01 L279.01,199.00 L279.20,199.02 L279.38,199.07 L279.57,199.16 L279.75,199.28 L279.94,199.42 L280.12,199.59 L280.31,199.79 L280.50,200.00 L280.68,200.24 L280.86,200.49 L281.05,200.75 L281.23,201.03 L281.42,201.32 L281.60,201.62 L281.79,201.93 L281.97,202.24 L282.16,202.56 L282.34,202.89 L282.53,203.23 L282.71,203.56 L282.90,203.91 L283.08,204.25 L283.27,204.60 L283.45,204.95 L283.64,205.31 L283.82,205.67 L284.01,206.03 L284.19,206.39 L284.38,206.75 L284.56,207.12 L284.75,207.48 L284.94,207.85 L285.12,208.22 L285.31,208.59 L285.49,208.97 L285.68,209.34 L285.86,209.71 L286.04,210.09 L286.23,210.70 L286.41,210.70 L286.60,210.70 L286.78,210.70 L286.97,210.70 L287.15,210.70 L287.34,210.70 L287.52,210.70 L287.71,210.70 L287.89,210.70 L288.08,210.70 L288.26,210.70 L288.45,210.70 L288.63,210.70 L288.82,210.70 L289.00,210.70 L289.19,210.70 L289.38,210.70 L289.56,210.70 L289.75,210.70 L289.93,210.70 L290.12,209.98 L290.30,209.62 L290.49,209.27 L290.67,208.92 L290.86,208.56 L291.04,208.21 L291.22,207.86 L291.41,207.51 L291.59,207.17 L291.78,206.82 L291.96,206.48 L292.15,206.13 L292.33,205.79 L292.52,205.45 L292.70,205.11 L292.89,204.78 L293.07,204.45 L293.26,204.12 L293.44,203.79 L293.63,203.47 L293.81,203.15 L294.00,202.84 L294.19,202.53 L294.37,202.22 L294.56,201.92 L294.74,201.63 L294.93,201.35 L295.11,201.07 L295.30,200.81 L295.48,200.55 L295.67,200.31 L295.85,200.08 L296.03,199.87 L296.22,199.68 L296.40,199.51 L296.59,199.36 L296.77,199.23 L296.96,199.13 L297.14,199.06 L297.33,199.01 L297.51,199.00 L297.70,199.02 L297.88,199.07 L298.07,199.14 L298.25,199.25 L298.44,199.38 L298.62,199.53 L298.81,199.71 L299.00,199.91 L299.18,200.12 L299.37,200.35 L299.55,200.59 L299.74,200.85 L299.92,201.12 L300.11,201.39 L300.29,201.68 L300.48,201.97 L300.66,202.27 L300.85,202.58 L301.03,202.89 L301.22,203.20 L301.40,203.52 L301.58,203.84 L301.77,204.17 L301.95,204.50 L302.14,204.83 L302.32,205.17 L302.51,205.51 L302.69,205.85 L302.88,206.19 L303.06,206.53 L303.25,206.88 L303.44,207.22 L303.62,207.57 L303.81,207.92 L303.99,208.27 L304.18,208.62 L304.36,208.97 L304.55,209.33 L304.73,209.68 L304.92,210.04 L305.10,211.30 L305.29,211.30 L305.47,211.30 L305.66,211.30 L305.84,211.30 L306.02,211.30 L306.21,211.30 L306.39,211.30 L306.58,211.30 L306.76,211.30 L306.95,211.30 L307.13,211.30 L307.32,211.30 L307.50,211.30 L307.69,211.30 L307.88,211.30 L308.06,211.30 L308.25,211.30 L308.43,211.30 L308.62,211.30 L308.80,211.30" fill="none" stroke="#fa2630" stroke-width="0.8" stroke-linejoin="round"/>
<line x1="267.75" y1="212.30" x2="271.55" y2="212.30" stroke="#fa2630" stroke-width="1.6"/>
<line x1="305.55" y1="212.30" x2="309.35" y2="212.30" stroke="#fa2630" stroke-width="1.6"/>
<line x1="198.20" y1="148.30" x2="209.50" y2="148.30" stroke="#fa2630" stroke-width="1.0"/>
<line x1="198.20" y1="151.40" x2="209.50" y2="151.40" stroke="#80d65c" stroke-width="0.85" stroke-dasharray="3.9,2.3"/>
<line x1="224.70" y1="148.30" x2="228.10" y2="148.30" stroke="#fa2630" stroke-width="1.0"/>
<line x1="224.70" y1="151.40" x2="228.10" y2="151.40" stroke="#80d65c" stroke-width="0.85" stroke-dasharray="3.9,2.3"/>
<line x1="243.10" y1="148.30" x2="272.40" y2="148.30" stroke="#fa2630" stroke-width="1.0"/>
<line x1="243.10" y1="151.40" x2="272.40" y2="151.40" stroke="#80d65c" stroke-width="0.85" stroke-dasharray="3.9,2.3"/>
<line x1="286.60" y1="148.30" x2="290.50" y2="148.30" stroke="#fa2630" stroke-width="1.0"/>
<line x1="286.60" y1="151.40" x2="290.50" y2="151.40" stroke="#80d65c" stroke-width="0.85" stroke-dasharray="3.9,2.3"/>
<line x1="305.50" y1="148.30" x2="316.70" y2="148.30" stroke="#fa2630" stroke-width="1.0"/>
<line x1="305.50" y1="151.40" x2="316.70" y2="151.40" stroke="#80d65c" stroke-width="0.85" stroke-dasharray="3.9,2.3"/>
<text transform="translate(257.7,34.7) scale(1,1.0)" text-anchor="middle" class="t3">(b)</text>
<rect x="198.2" y="23.4" width="118.5" height="202.9" fill="none" stroke="#484848" stroke-width="1.0"/>
<line x1="198.20" y1="226.30" x2="198.20" y2="223.70" stroke="#484848" stroke-width="0.7"/>
<line x1="198.20" y1="23.40" x2="198.20" y2="26.00" stroke="#484848" stroke-width="0.7"/>
<text transform="translate(198.20,236.6) scale(1,1.12)" text-anchor="middle" class="t">20</text>
<line x1="227.14" y1="226.30" x2="227.14" y2="223.70" stroke="#484848" stroke-width="0.7"/>
<line x1="227.14" y1="23.40" x2="227.14" y2="26.00" stroke="#484848" stroke-width="0.7"/>
<text transform="translate(227.14,236.6) scale(1,1.12)" text-anchor="middle" class="t">40</text>
<line x1="256.08" y1="226.30" x2="256.08" y2="223.70" stroke="#484848" stroke-width="0.7"/>
<line x1="256.08" y1="23.40" x2="256.08" y2="26.00" stroke="#484848" stroke-width="0.7"/>
<text transform="translate(256.08,236.6) scale(1,1.12)" text-anchor="middle" class="t">60</text>
<line x1="285.02" y1="226.30" x2="285.02" y2="223.70" stroke="#484848" stroke-width="0.7"/>
<line x1="285.02" y1="23.40" x2="285.02" y2="26.00" stroke="#484848" stroke-width="0.7"/>
<text transform="translate(285.02,236.6) scale(1,1.12)" text-anchor="middle" class="t">80</text>
<line x1="313.96" y1="226.30" x2="313.96" y2="223.70" stroke="#484848" stroke-width="0.7"/>
<line x1="313.96" y1="23.40" x2="313.96" y2="26.00" stroke="#484848" stroke-width="0.7"/>
<text transform="translate(313.96,236.6) scale(1,1.12)" text-anchor="middle" class="t">100</text>
<line x1="198.20" y1="23.40" x2="200.80" y2="23.40" stroke="#484848" stroke-width="0.7"/>
<line x1="316.70" y1="23.40" x2="314.10" y2="23.40" stroke="#484848" stroke-width="0.7"/>
<text transform="translate(195.79999999999998,25.90) scale(1,1.12)" text-anchor="end" class="t">1.2</text>
<line x1="198.20" y1="50.82" x2="200.80" y2="50.82" stroke="#484848" stroke-width="0.7"/>
<line x1="316.70" y1="50.82" x2="314.10" y2="50.82" stroke="#484848" stroke-width="0.7"/>
<text transform="translate(195.79999999999998,53.32) scale(1,1.12)" text-anchor="end" class="t">1.15</text>
<line x1="198.20" y1="78.23" x2="200.80" y2="78.23" stroke="#484848" stroke-width="0.7"/>
<line x1="316.70" y1="78.23" x2="314.10" y2="78.23" stroke="#484848" stroke-width="0.7"/>
<text transform="translate(195.79999999999998,80.73) scale(1,1.12)" text-anchor="end" class="t">1.1</text>
<line x1="198.20" y1="105.64" x2="200.80" y2="105.64" stroke="#484848" stroke-width="0.7"/>
<line x1="316.70" y1="105.64" x2="314.10" y2="105.64" stroke="#484848" stroke-width="0.7"/>
<text transform="translate(195.79999999999998,108.14) scale(1,1.12)" text-anchor="end" class="t">1.05</text>
<line x1="198.20" y1="133.06" x2="200.80" y2="133.06" stroke="#484848" stroke-width="0.7"/>
<line x1="316.70" y1="133.06" x2="314.10" y2="133.06" stroke="#484848" stroke-width="0.7"/>
<text transform="translate(195.79999999999998,135.56) scale(1,1.12)" text-anchor="end" class="t">1</text>
<line x1="198.20" y1="160.47" x2="200.80" y2="160.47" stroke="#484848" stroke-width="0.7"/>
<line x1="316.70" y1="160.47" x2="314.10" y2="160.47" stroke="#484848" stroke-width="0.7"/>
<text transform="translate(195.79999999999998,162.97) scale(1,1.12)" text-anchor="end" class="t">0.95</text>
<line x1="198.20" y1="187.89" x2="200.80" y2="187.89" stroke="#484848" stroke-width="0.7"/>
<line x1="316.70" y1="187.89" x2="314.10" y2="187.89" stroke="#484848" stroke-width="0.7"/>
<text transform="translate(195.79999999999998,190.39) scale(1,1.12)" text-anchor="end" class="t">0.9</text>
<line x1="198.20" y1="215.30" x2="200.80" y2="215.30" stroke="#484848" stroke-width="0.7"/>
<line x1="316.70" y1="215.30" x2="314.10" y2="215.30" stroke="#484848" stroke-width="0.7"/>
<text transform="translate(195.79999999999998,217.80) scale(1,1.12)" text-anchor="end" class="t">0.85</text>
<text transform="translate(257.6,246.2) scale(1,1.1)" text-anchor="middle" class="t2">Distance (nm)</text>
<text transform="translate(176.4,124.25) rotate(-90) scale(1,1.1)" text-anchor="middle" class="t2">Energy (eV)</text>
<rect x="319.8" y="0" width="24" height="246" fill="#fff" opacity="0.85"/>
</svg></body></html>
